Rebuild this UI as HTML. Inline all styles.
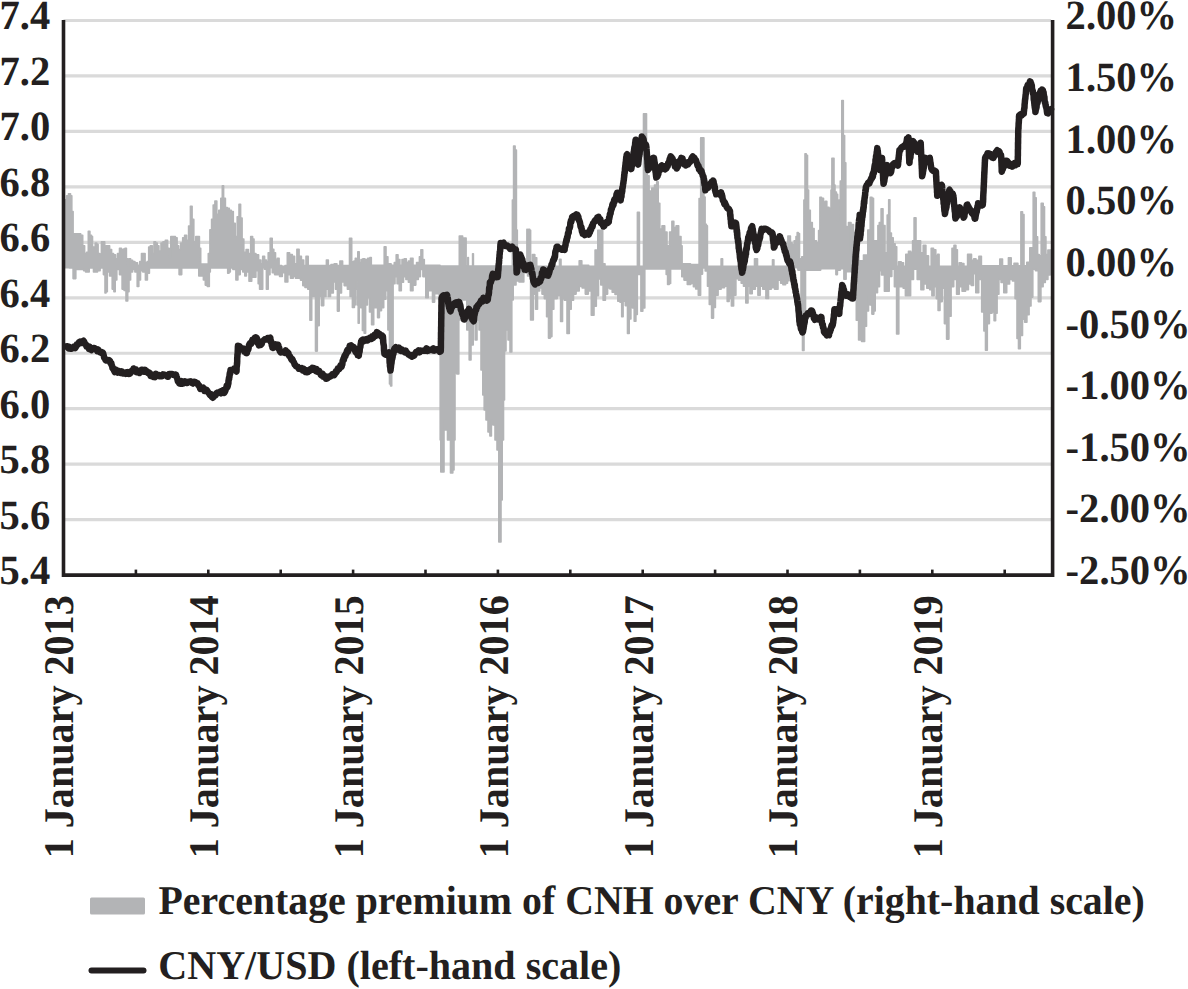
<!DOCTYPE html>
<html><head><meta charset="utf-8"><style>
html,body{margin:0;padding:0;background:#fff;overflow:hidden;}
svg{display:block;}
text{text-rendering:geometricPrecision;font-family:"Liberation Serif",serif;font-weight:bold;fill:#231f20;}
.ax{font-size:41.6px;}
.xl{font-size:42.2px;}
.lg{font-size:40.9px;}
</style></head><body>
<svg width="1188" height="989" viewBox="0 0 1188 989">
<line x1="63.5" y1="20.50" x2="1051.1" y2="20.50" stroke="#dadada" stroke-width="3.2"/>
<line x1="63.5" y1="75.96" x2="1051.1" y2="75.96" stroke="#dadada" stroke-width="3.2"/>
<line x1="63.5" y1="131.42" x2="1051.1" y2="131.42" stroke="#dadada" stroke-width="3.2"/>
<line x1="63.5" y1="186.88" x2="1051.1" y2="186.88" stroke="#dadada" stroke-width="3.2"/>
<line x1="63.5" y1="242.34" x2="1051.1" y2="242.34" stroke="#dadada" stroke-width="3.2"/>
<line x1="63.5" y1="297.80" x2="1051.1" y2="297.80" stroke="#dadada" stroke-width="3.2"/>
<line x1="63.5" y1="353.26" x2="1051.1" y2="353.26" stroke="#dadada" stroke-width="3.2"/>
<line x1="63.5" y1="408.72" x2="1051.1" y2="408.72" stroke="#dadada" stroke-width="3.2"/>
<line x1="63.5" y1="464.18" x2="1051.1" y2="464.18" stroke="#dadada" stroke-width="3.2"/>
<line x1="63.5" y1="519.64" x2="1051.1" y2="519.64" stroke="#dadada" stroke-width="3.2"/>
<path d="M65.0 199.7 L65.5 199.7 L65.5 199.7 L66.6 199.7 L66.6 195.8 L68.5 195.8 L68.5 193.8 L70.5 193.8 L70.5 195.8 L71.8 195.8 L71.8 211.5 L73.1 211.5 L73.1 233.9 L74.8 233.9 L74.8 233.9 L77.7 233.9 L77.7 233.9 L80.7 233.9 L80.7 235.2 L82.7 235.2 L82.7 245.7 L84.6 245.7 L84.6 253.6 L86.6 253.6 L86.6 252.3 L88.3 252.3 L88.3 231.2 L89.9 231.2 L89.9 235.2 L91.5 235.2 L91.5 236.5 L92.5 236.5 L92.5 248.3 L93.5 248.3 L93.5 247.0 L95.2 247.0 L95.2 243.1 L96.8 243.1 L96.8 244.4 L98.1 244.4 L98.1 253.6 L99.8 253.6 L99.8 254.9 L101.4 254.9 L101.4 241.8 L103.0 241.8 L103.0 241.8 L104.7 241.8 L104.7 249.6 L106.0 249.6 L106.0 245.7 L107.6 245.7 L107.6 245.7 L109.6 245.7 L109.6 249.6 L111.6 249.6 L111.6 253.6 L113.5 253.6 L113.5 254.9 L115.5 254.9 L115.5 258.8 L117.5 258.8 L117.5 253.6 L119.5 253.6 L119.5 248.3 L121.4 248.3 L121.4 249.6 L123.4 249.6 L123.4 249.0 L125.0 249.0 L125.0 248.3 L126.4 248.3 L126.4 258.8 L127.7 258.8 L127.7 265.4 L129.0 265.4 L129.0 258.8 L130.6 258.8 L130.6 260.2 L132.6 260.2 L132.6 261.5 L134.9 261.5 L134.9 262.8 L137.5 262.8 L137.5 265.4 L139.8 265.4 L139.8 261.5 L141.5 261.5 L141.5 253.6 L143.1 253.6 L143.1 253.6 L145.1 253.6 L145.1 262.8 L147.1 262.8 L147.1 261.5 L148.7 261.5 L148.7 247.0 L150.3 247.0 L150.3 245.7 L152.3 245.7 L152.3 253.6 L154.0 253.6 L154.0 241.8 L155.6 241.8 L155.6 243.1 L157.2 243.1 L157.2 245.7 L158.9 245.7 L158.9 251.0 L161.0 251.0 L161.0 243.1 L163.0 243.1 L163.0 241.8 L165.3 241.8 L165.3 240.4 L167.6 240.4 L167.6 248.3 L169.2 248.3 L169.2 257.5 L170.8 257.5 L170.8 236.5 L173.1 236.5 L173.1 236.5 L175.4 236.5 L175.4 237.8 L177.1 237.8 L177.1 245.7 L178.7 245.7 L178.7 249.6 L180.7 249.6 L180.7 243.1 L182.7 243.1 L182.7 237.8 L184.6 237.8 L184.6 235.2 L186.6 235.2 L186.6 240.4 L188.6 240.4 L188.6 226.0 L190.4 226.0 L190.4 206.3 L192.1 206.3 L192.1 219.4 L193.8 219.4 L193.8 241.8 L195.8 241.8 L195.8 236.5 L197.8 236.5 L197.8 236.5 L199.4 236.5 L199.4 248.3 L200.7 248.3 L200.7 264.1 L203.0 264.1 L203.0 264.1 L206.0 264.1 L206.0 264.1 L208.3 264.1 L208.3 253.6 L209.9 253.6 L209.9 229.9 L211.6 229.9 L211.6 219.4 L213.2 219.4 L213.2 205.0 L214.9 205.0 L214.9 201.0 L216.8 201.0 L216.8 214.2 L218.8 214.2 L218.8 210.2 L220.8 210.2 L220.8 198.4 L222.3 198.4 L222.3 185.9 L223.6 185.9 L223.6 198.4 L225.4 198.4 L225.4 207.6 L227.3 207.6 L227.3 208.3 L229.3 208.3 L229.3 210.2 L231.3 210.2 L231.3 211.5 L233.3 211.5 L233.3 223.4 L235.2 223.4 L235.2 236.5 L237.2 236.5 L237.2 216.8 L239.0 216.8 L239.0 204.3 L240.6 204.3 L240.6 218.1 L242.1 218.1 L242.1 239.1 L243.8 239.1 L243.8 252.3 L246.1 252.3 L246.1 249.6 L248.4 249.6 L248.4 253.6 L250.7 253.6 L250.7 236.5 L252.6 236.5 L252.6 239.1 L254.0 239.1 L254.0 253.6 L255.9 253.6 L255.9 254.9 L258.6 254.9 L258.6 260.1 L260.9 260.1 L260.9 263.7 L262.7 263.7 L262.7 256.4 L264.6 256.4 L264.6 260.1 L266.4 260.1 L266.4 261.9 L268.2 261.9 L268.2 252.8 L270.2 252.8 L270.2 238.2 L272.2 238.2 L272.2 249.2 L273.8 249.2 L273.8 252.8 L275.5 252.8 L275.5 260.1 L277.3 260.1 L277.3 258.3 L279.1 258.3 L279.1 265.5 L281.8 265.5 L281.8 266.2 L285.0 266.2 L285.0 265.5 L287.3 265.5 L287.3 252.8 L289.6 252.8 L289.6 254.6 L292.3 254.6 L292.3 256.4 L294.6 256.4 L294.6 263.7 L296.9 263.7 L296.9 249.2 L299.1 249.2 L299.1 256.4 L301.4 256.4 L301.4 260.1 L303.7 260.1 L303.7 265.5 L306.0 265.5 L306.0 256.4 L308.2 256.4 L308.2 265.5 L317.3 265.5 L317.3 265.5 L326.4 265.5 L326.4 260.1 L328.3 260.1 L328.3 265.5 L331.0 265.5 L331.0 264.6 L334.2 264.6 L334.2 263.7 L336.9 263.7 L336.9 265.5 L339.9 265.5 L339.9 261.0 L342.6 261.0 L342.6 265.5 L346.0 265.5 L346.0 265.5 L349.5 265.5 L349.5 238.2 L351.7 238.2 L351.7 261.9 L353.9 261.9 L353.9 261.0 L355.3 261.0 L355.3 258.3 L356.3 258.3 L356.3 259.6 L357.8 259.6 L357.8 251.8 L359.2 251.8 L359.2 262.5 L361.0 262.5 L361.0 259.6 L362.8 259.6 L362.8 258.9 L364.9 258.9 L364.9 259.6 L367.7 259.6 L367.7 258.2 L369.9 258.2 L369.9 257.5 L371.3 257.5 L371.3 265.3 L377.6 265.3 L377.6 265.3 L384.2 265.3 L384.2 246.9 L386.0 246.9 L386.0 256.8 L387.9 256.8 L387.9 263.9 L391.1 263.9 L391.1 265.3 L394.3 265.3 L394.3 262.5 L396.2 262.5 L396.2 254.7 L398.0 254.7 L398.0 259.6 L399.9 259.6 L399.9 265.3 L402.0 265.3 L402.0 259.6 L404.2 259.6 L404.2 258.9 L406.3 258.9 L406.3 262.5 L408.4 262.5 L408.4 261.0 L410.5 261.0 L410.5 258.2 L413.0 258.2 L413.0 265.3 L416.6 265.3 L416.6 262.5 L419.4 262.5 L419.4 256.8 L420.9 256.8 L420.9 249.7 L422.7 249.7 L422.7 259.6 L424.3 259.6 L424.3 265.3 L432.5 265.3 L432.5 265.3 L440.0 265.3 L440.0 266.0 L449.5 266.0 L449.5 266.0 L459.3 266.0 L459.3 236.0 L462.6 236.0 L462.6 238.0 L466.1 238.0 L466.1 266.0 L467.0 266.0 L467.0 266.0 L467.8 266.0 L467.8 257.5 L468.4 257.5 L468.4 266.0 L470.6 266.0 L470.6 266.0 L472.6 266.0 L472.6 253.7 L473.4 253.7 L473.4 266.0 L492.9 266.0 L492.9 266.0 L512.4 266.0 L512.4 200.0 L513.6 200.0 L513.6 146.0 L515.1 146.0 L515.1 150.0 L516.4 150.0 L516.4 230.0 L517.3 230.0 L517.3 266.0 L519.6 266.0 L519.6 266.2 L524.0 266.2 L524.0 266.0 L526.9 266.0 L526.9 229.4 L527.4 229.4 L527.4 229.6 L528.5 229.6 L528.5 229.4 L529.7 229.4 L529.7 230.3 L530.6 230.3 L530.6 266.2 L532.5 266.2 L532.5 254.6 L534.8 254.6 L534.8 257.7 L536.7 257.7 L536.7 266.2 L548.1 266.2 L548.1 266.2 L559.5 266.2 L559.5 259.2 L561.0 259.2 L561.0 266.2 L569.7 266.2 L569.7 266.2 L579.2 266.2 L579.2 260.7 L581.8 260.7 L581.8 265.3 L588.7 265.3 L588.7 266.2 L595.1 266.2 L595.1 250.1 L597.8 250.1 L597.8 230.3 L600.8 230.3 L600.8 230.3 L602.7 230.3 L602.7 263.7 L605.0 263.7 L605.0 266.2 L611.8 266.2 L611.8 266.2 L627.1 266.2 L627.1 266.2 L637.4 266.2 L637.4 212.3 L638.4 212.3 L638.4 212.3 L639.4 212.3 L639.4 266.2 L641.4 266.2 L641.4 266.2 L643.5 266.2 L643.5 113.7 L645.0 113.7 L645.0 113.7 L646.5 113.7 L646.5 169.8 L647.2 169.8 L647.2 175.9 L649.1 175.9 L649.1 191.0 L651.8 191.0 L651.8 188.0 L654.5 188.0 L654.5 185.0 L656.7 185.0 L656.7 181.9 L658.2 181.9 L658.2 203.2 L659.8 203.2 L659.8 229.0 L662.0 229.0 L662.0 225.9 L664.7 225.9 L664.7 232.0 L667.0 232.0 L667.0 245.7 L669.6 245.7 L669.6 232.0 L671.9 232.0 L671.9 221.4 L673.8 221.4 L673.8 227.5 L676.1 227.5 L676.1 225.9 L678.7 225.9 L678.7 236.6 L681.0 236.6 L681.0 245.7 L682.1 245.7 L682.1 263.9 L690.5 263.9 L690.5 264.6 L699.1 264.6 L699.1 198.6 L700.7 198.6 L700.7 137.9 L702.6 137.9 L702.6 137.9 L703.9 137.9 L703.9 197.1 L705.1 197.1 L705.1 224.4 L706.4 224.4 L706.4 225.9 L707.4 225.9 L707.4 266.2 L708.8 266.2 L708.8 266.2 L715.0 266.2 L715.0 266.2 L721.1 266.2 L721.1 258.9 L722.6 258.9 L722.6 266.2 L738.6 266.2 L738.6 266.2 L754.5 266.2 L754.5 258.9 L756.0 258.9 L756.0 258.9 L757.5 258.9 L757.5 266.2 L765.1 266.2 L765.1 266.2 L772.5 266.2 L772.5 259.7 L773.9 259.7 L773.9 266.2 L780.9 266.2 L780.9 266.2 L787.9 266.2 L787.9 236.1 L789.1 236.1 L789.1 236.1 L790.4 236.1 L790.4 242.7 L792.1 242.7 L792.1 244.7 L794.2 244.7 L794.2 240.7 L796.0 240.7 L796.0 236.6 L797.2 236.6 L797.2 232.6 L798.2 232.6 L798.2 233.6 L799.5 233.6 L799.5 258.9 L801.8 258.9 L801.8 256.8 L803.9 256.8 L803.9 200.0 L805.0 200.0 L805.0 153.7 L806.2 153.7 L806.2 155.3 L807.5 155.3 L807.5 190.0 L808.6 190.0 L808.6 210.3 L810.3 210.3 L810.3 222.5 L812.3 222.5 L812.3 228.5 L814.1 228.5 L814.1 240.7 L816.4 240.7 L816.4 242.7 L818.6 242.7 L818.6 230.6 L819.9 230.6 L819.9 197.2 L821.5 197.2 L821.5 198.2 L823.5 198.2 L823.5 202.2 L825.2 202.2 L825.2 201.2 L826.8 201.2 L826.8 207.3 L829.0 207.3 L829.0 208.3 L831.0 208.3 L831.0 190.0 L831.9 190.0 L831.9 158.3 L832.9 158.3 L832.9 158.3 L834.0 158.3 L834.0 185.0 L835.0 185.0 L835.0 192.1 L836.4 192.1 L836.4 194.2 L837.6 194.2 L837.6 220.4 L838.8 220.4 L838.8 200.0 L840.3 200.0 L840.3 181.0 L841.8 181.0 L841.8 100.6 L843.3 100.6 L843.3 135.5 L844.6 135.5 L844.6 162.8 L845.8 162.8 L845.8 226.6 L847.1 226.6 L847.1 252.8 L848.5 252.8 L848.5 222.5 L851.0 222.5 L851.0 224.5 L853.5 224.5 L853.5 232.6 L855.5 232.6 L855.5 240.7 L858.8 240.7 L858.8 260.9 L863.5 260.9 L863.5 255.0 L867.8 255.0 L867.8 230.0 L870.2 230.0 L870.2 197.2 L872.0 197.2 L872.0 198.2 L873.5 198.2 L873.5 240.7 L875.5 240.7 L875.5 240.7 L877.9 240.7 L877.9 225.5 L879.3 225.5 L879.3 222.5 L881.1 222.5 L881.1 208.8 L883.0 208.8 L883.0 225.5 L885.0 225.5 L885.0 252.8 L887.2 252.8 L887.2 215.0 L888.7 215.0 L888.7 199.7 L889.9 199.7 L889.9 233.1 L891.4 233.1 L891.4 237.7 L893.2 237.7 L893.2 243.7 L895.1 243.7 L895.1 246.8 L896.7 246.8 L896.7 266.2 L898.6 266.2 L898.6 261.9 L901.2 261.9 L901.2 262.7 L903.5 262.7 L903.5 266.2 L905.8 266.2 L905.8 254.4 L908.5 254.4 L908.5 251.3 L910.8 251.3 L910.8 252.8 L912.6 252.8 L912.6 240.7 L914.1 240.7 L914.1 217.9 L916.0 217.9 L916.0 240.7 L918.4 240.7 L918.4 240.7 L920.6 240.7 L920.6 252.8 L923.2 252.8 L923.2 245.3 L925.9 245.3 L925.9 255.9 L928.5 255.9 L928.5 266.2 L931.2 266.2 L931.2 248.3 L933.5 248.3 L933.5 249.8 L935.8 249.8 L935.8 255.9 L937.6 255.9 L937.6 254.4 L939.1 254.4 L939.1 266.2 L945.6 266.2 L945.6 266.2 L952.0 266.2 L952.0 248.3 L954.0 248.3 L954.0 245.3 L955.9 245.3 L955.9 249.8 L957.4 249.8 L957.4 266.2 L959.2 266.2 L959.2 262.7 L961.5 262.7 L961.5 263.5 L963.9 263.5 L963.9 266.2 L967.6 266.2 L967.6 254.4 L971.5 254.4 L971.5 260.4 L973.7 260.4 L973.7 258.9 L976.0 258.9 L976.0 260.4 L978.9 260.4 L978.9 256.2 L981.4 256.2 L981.4 265.7 L990.0 265.7 L990.0 265.7 L999.8 265.7 L999.8 259.0 L1002.5 259.0 L1002.5 265.7 L1005.0 265.7 L1005.0 265.7 L1008.4 265.7 L1008.4 257.9 L1011.2 257.9 L1011.2 265.7 L1014.0 265.7 L1014.0 263.4 L1017.9 263.4 L1017.9 265.7 L1020.9 265.7 L1020.9 211.7 L1022.5 211.7 L1022.5 214.5 L1024.0 214.5 L1024.0 265.7 L1026.8 265.7 L1026.8 262.3 L1029.8 262.3 L1029.8 247.9 L1031.4 247.9 L1031.4 247.9 L1033.2 247.9 L1033.2 192.2 L1034.8 192.2 L1034.8 197.8 L1036.2 197.8 L1036.2 236.7 L1037.6 236.7 L1037.6 254.5 L1039.2 254.5 L1039.2 255.7 L1041.2 255.7 L1041.2 203.4 L1043.2 203.4 L1043.2 206.7 L1044.5 206.7 L1044.5 236.7 L1045.9 236.7 L1045.9 254.5 L1047.9 254.5 L1047.9 250.1 L1049.7 250.1 L1049.7 250.1 L1050.5 250.1 L1050.5 250.1 L1050.8 250.1 L1050.8 270.6 L1050.8 270.6 L1050.8 270.6 L1050.2 270.6 L1050.2 275.0 L1047.9 275.0 L1047.9 279.5 L1045.3 279.5 L1045.3 282.4 L1043.1 282.4 L1043.1 286.8 L1040.9 286.8 L1040.9 301.6 L1038.3 301.6 L1038.3 270.6 L1035.4 270.6 L1035.4 269.1 L1032.8 269.1 L1032.8 297.1 L1031.0 297.1 L1031.0 306.0 L1029.1 306.0 L1029.1 314.8 L1026.9 314.8 L1026.9 322.2 L1024.7 322.2 L1024.7 319.2 L1022.5 319.2 L1022.5 335.4 L1020.3 335.4 L1020.3 348.7 L1018.5 348.7 L1018.5 338.4 L1017.0 338.4 L1017.0 298.6 L1015.1 298.6 L1015.1 280.9 L1012.5 280.9 L1012.5 279.5 L1009.6 279.5 L1009.6 283.9 L1006.7 283.9 L1006.7 292.7 L1003.8 292.7 L1003.8 282.4 L1001.1 282.4 L1001.1 279.5 L998.9 279.5 L998.9 294.2 L997.1 294.2 L997.1 313.3 L995.6 313.3 L995.6 320.7 L994.1 320.7 L994.1 311.9 L992.0 311.9 L992.0 313.3 L989.4 313.3 L989.4 323.6 L987.3 323.6 L987.3 350.2 L985.5 350.2 L985.5 331.0 L983.9 331.0 L983.9 311.9 L981.7 311.9 L981.7 279.5 L978.7 279.5 L978.7 292.7 L975.8 292.7 L975.8 273.6 L973.5 273.6 L973.5 285.4 L971.3 285.4 L971.3 283.9 L968.4 283.9 L968.4 289.8 L965.5 289.8 L965.5 291.2 L962.1 291.2 L962.1 286.8 L959.2 286.8 L959.2 294.2 L956.6 294.2 L956.6 279.5 L953.7 279.5 L953.7 286.8 L951.1 286.8 L951.1 316.3 L948.9 316.3 L948.9 339.1 L946.6 339.1 L946.6 323.6 L944.4 323.6 L944.4 288.3 L942.2 288.3 L942.2 301.6 L940.0 301.6 L940.0 310.4 L938.1 310.4 L938.1 298.6 L936.3 298.6 L936.3 286.8 L934.1 286.8 L934.1 295.7 L931.9 295.7 L931.9 289.8 L929.7 289.8 L929.7 288.3 L926.8 288.3 L926.8 283.9 L923.8 283.9 L923.8 289.8 L920.9 289.8 L920.9 279.5 L917.2 279.5 L917.2 269.1 L913.5 269.1 L913.5 279.5 L910.6 279.5 L910.6 295.7 L908.0 295.7 L908.0 295.7 L905.4 295.7 L905.4 288.3 L903.2 288.3 L903.2 286.8 L901.0 286.8 L901.0 286.8 L898.8 286.8 L898.8 334.0 L896.6 334.0 L896.6 286.8 L894.4 286.8 L894.4 269.1 L891.8 269.1 L891.8 276.5 L889.2 276.5 L889.2 291.2 L887.0 291.2 L887.0 291.2 L884.4 291.2 L884.4 275.0 L881.5 275.0 L881.5 270.6 L879.5 270.6 L879.5 286.8 L877.5 286.8 L877.5 292.8 L875.2 292.8 L875.2 311.0 L873.8 311.0 L873.8 314.1 L871.9 314.1 L871.9 305.0 L870.0 305.0 L870.0 295.9 L868.5 295.9 L868.5 311.0 L866.5 311.0 L866.5 326.2 L864.6 326.2 L864.6 341.4 L861.6 341.4 L861.6 339.9 L858.6 339.9 L858.6 320.2 L856.3 320.2 L856.3 271.6 L851.0 271.6 L851.0 271.6 L846.1 271.6 L846.1 279.2 L843.9 279.2 L843.9 268.6 L840.4 268.6 L840.4 270.1 L837.4 270.1 L837.4 274.6 L835.9 274.6 L835.9 268.6 L820.7 268.6 L820.7 270.1 L805.5 270.1 L805.5 311.0 L804.0 311.0 L804.0 350.5 L802.5 350.5 L802.5 305.0 L801.0 305.0 L801.0 270.1 L797.9 270.1 L797.9 267.8 L794.1 267.8 L794.1 270.1 L791.5 270.1 L791.5 273.1 L789.1 273.1 L789.1 280.7 L787.5 280.7 L787.5 283.2 L785.6 283.2 L785.6 284.7 L782.9 284.7 L782.9 283.2 L780.7 283.2 L780.7 280.2 L778.0 280.2 L778.0 289.3 L774.6 289.3 L774.6 287.7 L771.2 287.7 L771.2 289.3 L768.5 289.3 L768.5 298.4 L765.9 298.4 L765.9 289.3 L762.8 289.3 L762.8 286.2 L760.2 286.2 L760.2 295.3 L757.9 295.3 L757.9 286.2 L755.3 286.2 L755.3 289.3 L752.2 289.3 L752.2 293.8 L749.9 293.8 L749.9 286.2 L748.0 286.2 L748.0 302.9 L745.8 302.9 L745.8 286.2 L743.5 286.2 L743.5 283.2 L741.2 283.2 L741.2 280.2 L738.6 280.2 L738.6 278.6 L735.9 278.6 L735.9 295.3 L733.6 295.3 L733.6 305.9 L731.4 305.9 L731.4 298.4 L729.1 298.4 L729.1 301.4 L727.2 301.4 L727.2 286.2 L724.5 286.2 L724.5 287.7 L721.1 287.7 L721.1 289.3 L718.1 289.3 L718.1 295.3 L715.4 295.3 L715.4 307.5 L713.5 307.5 L713.5 318.1 L711.6 318.1 L711.6 304.4 L709.3 304.4 L709.3 286.2 L707.5 286.2 L707.5 271.0 L705.2 271.0 L705.2 268.0 L702.5 268.0 L702.5 274.1 L700.6 274.1 L700.6 295.3 L698.3 295.3 L698.3 289.0 L695.7 289.0 L695.7 286.7 L693.4 286.7 L693.4 283.4 L690.7 283.4 L690.7 284.5 L687.3 284.5 L687.3 280.1 L684.0 280.1 L684.0 276.7 L681.8 276.7 L681.8 268.9 L676.2 268.9 L676.2 268.9 L670.6 268.9 L670.6 283.4 L669.2 283.4 L669.2 284.5 L667.6 284.5 L667.6 274.5 L666.2 274.5 L666.2 268.9 L655.6 268.9 L655.6 268.9 L644.8 268.9 L644.8 307.9 L642.8 307.9 L642.8 311.2 L640.9 311.2 L640.9 274.5 L638.9 274.5 L638.9 274.5 L637.3 274.5 L637.3 314.5 L635.9 314.5 L635.9 321.2 L634.2 321.2 L634.2 307.9 L632.5 307.9 L632.5 303.4 L630.9 303.4 L630.9 319.0 L629.2 319.0 L629.2 333.4 L627.5 333.4 L627.5 305.6 L625.3 305.6 L625.3 301.2 L623.1 301.2 L623.1 316.8 L621.7 316.8 L621.7 302.3 L620.0 302.3 L620.0 301.2 L617.8 301.2 L617.8 294.5 L615.0 294.5 L615.0 292.3 L612.2 292.3 L612.2 289.0 L609.9 289.0 L609.9 288.0 L607.6 288.0 L607.6 294.1 L605.4 294.1 L605.4 300.2 L603.1 300.2 L603.1 285.0 L600.8 285.0 L600.8 278.9 L598.5 278.9 L598.5 295.6 L596.3 295.6 L596.3 306.2 L594.0 306.2 L594.0 315.3 L591.3 315.3 L591.3 291.0 L588.3 291.0 L588.3 294.1 L585.3 294.1 L585.3 288.0 L582.2 288.0 L582.2 286.5 L579.2 286.5 L579.2 291.0 L576.1 291.0 L576.1 294.1 L573.5 294.1 L573.5 300.2 L571.2 300.2 L571.2 309.3 L569.3 309.3 L569.3 333.5 L567.0 333.5 L567.0 300.2 L564.4 300.2 L564.4 298.6 L562.5 298.6 L562.5 321.4 L560.6 321.4 L560.6 295.6 L557.2 295.6 L557.2 298.6 L553.8 298.6 L553.8 309.3 L551.9 309.3 L551.9 336.6 L550.3 336.6 L550.3 338.1 L548.5 338.1 L548.5 316.8 L546.6 316.8 L546.6 298.6 L544.3 298.6 L544.3 294.1 L542.0 294.1 L542.0 288.0 L539.7 288.0 L539.7 291.0 L537.5 291.0 L537.5 309.3 L535.6 309.3 L535.6 294.1 L533.3 294.1 L533.3 319.9 L530.6 319.9 L530.6 275.9 L527.6 275.9 L527.6 272.8 L523.8 272.8 L523.8 281.9 L520.8 281.9 L520.8 282.0 L519.0 282.0 L519.0 281.0 L516.0 281.0 L516.0 285.0 L513.2 285.0 L513.2 300.0 L511.8 300.0 L511.8 352.0 L510.0 352.0 L510.0 340.0 L508.0 340.0 L508.0 330.0 L506.0 330.0 L506.0 351.0 L504.5 351.0 L504.5 400.0 L503.5 400.0 L503.5 440.0 L502.2 440.0 L502.2 500.0 L501.0 500.0 L501.0 542.0 L500.0 542.0 L500.0 542.0 L498.8 542.0 L498.8 450.0 L497.0 450.0 L497.0 440.0 L495.0 440.0 L495.0 425.0 L493.0 425.0 L493.0 420.0 L491.4 420.0 L491.4 436.0 L489.9 436.0 L489.9 432.0 L488.0 432.0 L488.0 420.0 L486.0 420.0 L486.0 410.0 L484.2 410.0 L484.2 395.0 L482.8 395.0 L482.8 370.0 L481.0 370.0 L481.0 330.0 L479.0 330.0 L479.0 320.0 L477.0 320.0 L477.0 340.0 L475.2 340.0 L475.2 320.0 L473.2 320.0 L473.2 345.0 L471.0 345.0 L471.0 360.0 L469.2 360.0 L469.2 330.0 L466.8 330.0 L466.8 300.0 L463.5 300.0 L463.5 300.0 L460.8 300.0 L460.8 320.0 L458.8 320.0 L458.8 374.0 L456.8 374.0 L456.8 373.0 L455.0 373.0 L455.0 440.0 L454.0 440.0 L454.0 470.0 L452.8 470.0 L452.8 473.0 L450.5 473.0 L450.5 440.0 L447.5 440.0 L447.5 430.0 L445.2 430.0 L445.2 420.0 L444.0 420.0 L444.0 472.0 L442.2 472.0 L442.2 472.0 L440.8 472.0 L440.8 440.0 L440.2 440.0 L440.2 300.0 L440.0 300.0 L440.0 299.2 L439.2 299.2 L439.2 293.6 L437.1 293.6 L437.1 293.6 L434.6 293.6 L434.6 302.1 L432.5 302.1 L432.5 290.8 L430.4 290.8 L430.4 290.8 L428.2 290.8 L428.2 297.8 L425.8 297.8 L425.8 276.6 L422.9 276.6 L422.9 269.5 L420.4 269.5 L420.4 276.6 L418.3 276.6 L418.3 279.4 L415.8 279.4 L415.8 285.1 L413.0 285.1 L413.0 290.8 L410.5 290.8 L410.5 282.3 L408.4 282.3 L408.4 279.4 L405.9 279.4 L405.9 276.6 L403.5 276.6 L403.5 282.3 L401.3 282.3 L401.3 290.8 L399.2 290.8 L399.2 283.7 L397.1 283.7 L397.1 276.6 L395.0 276.6 L395.0 283.7 L393.1 283.7 L393.1 345.0 L391.7 345.0 L391.7 386.0 L390.6 386.0 L390.6 384.0 L389.5 384.0 L389.5 330.0 L387.9 330.0 L387.9 290.8 L385.8 290.8 L385.8 299.2 L383.7 299.2 L383.7 307.7 L381.5 307.7 L381.5 310.6 L379.4 310.6 L379.4 317.6 L377.6 317.6 L377.6 307.7 L375.9 307.7 L375.9 307.7 L373.7 307.7 L373.7 324.7 L371.6 324.7 L371.6 312.0 L369.5 312.0 L369.5 297.8 L367.4 297.8 L367.4 304.9 L365.6 304.9 L365.6 333.2 L364.2 333.2 L364.2 330.4 L362.4 330.4 L362.4 307.7 L360.7 307.7 L360.7 304.9 L359.2 304.9 L359.2 323.3 L358.2 323.3 L358.2 304.9 L357.1 304.9 L357.1 280.8 L356.0 280.8 L356.0 289.2 L355.3 289.2 L355.3 304.9 L354.4 304.9 L354.4 307.4 L352.4 307.4 L352.4 296.5 L350.1 296.5 L350.1 289.2 L347.4 289.2 L347.4 285.6 L344.2 285.6 L344.2 281.9 L341.5 281.9 L341.5 292.9 L339.2 292.9 L339.2 311.1 L337.4 311.1 L337.4 289.2 L335.5 289.2 L335.5 281.9 L333.3 281.9 L333.3 292.9 L330.5 292.9 L330.5 296.5 L328.3 296.5 L328.3 289.2 L326.0 289.2 L326.0 296.5 L323.7 296.5 L323.7 305.6 L321.4 305.6 L321.4 296.5 L319.2 296.5 L319.2 325.6 L317.3 325.6 L317.3 351.1 L315.5 351.1 L315.5 296.5 L313.7 296.5 L313.7 296.5 L311.7 296.5 L311.7 320.2 L309.9 320.2 L309.9 289.2 L307.8 289.2 L307.8 287.4 L305.0 287.4 L305.0 285.6 L302.8 285.6 L302.8 280.1 L300.5 280.1 L300.5 278.3 L297.8 278.3 L297.8 278.3 L295.5 278.3 L295.5 276.5 L293.2 276.5 L293.2 278.3 L290.5 278.3 L290.5 274.6 L287.8 274.6 L287.8 281.9 L285.0 281.9 L285.0 272.8 L282.3 272.8 L282.3 276.5 L279.6 276.5 L279.6 274.6 L276.8 274.6 L276.8 274.6 L274.6 274.6 L274.6 272.8 L272.3 272.8 L272.3 267.8 L270.0 267.8 L270.0 274.6 L268.2 274.6 L268.2 289.2 L266.4 289.2 L266.4 269.2 L264.6 269.2 L264.6 267.8 L262.7 267.8 L262.7 289.2 L260.9 289.2 L260.9 289.2 L259.6 289.2 L259.6 283.8 L258.2 283.8 L258.2 270.7 L255.9 270.7 L255.9 277.2 L253.6 277.2 L253.6 277.2 L251.7 277.2 L251.7 281.2 L249.0 281.2 L249.0 272.0 L246.4 272.0 L246.4 275.9 L244.8 275.9 L244.8 272.0 L242.8 272.0 L242.8 269.4 L240.2 269.4 L240.2 274.6 L237.9 274.6 L237.9 279.9 L235.9 279.9 L235.9 269.4 L232.9 269.4 L232.9 268.0 L230.3 268.0 L230.3 272.0 L229.0 272.0 L229.0 273.3 L227.7 273.3 L227.7 268.0 L218.8 268.0 L218.8 268.0 L210.3 268.0 L210.3 272.0 L209.3 272.0 L209.3 286.4 L207.3 286.4 L207.3 285.1 L205.3 285.1 L205.3 279.9 L203.4 279.9 L203.4 275.9 L200.7 275.9 L200.7 275.9 L198.8 275.9 L198.8 268.0 L190.2 268.0 L190.2 268.0 L181.7 268.0 L181.7 274.6 L180.4 274.6 L180.4 274.6 L179.1 274.6 L179.1 268.0 L169.2 268.0 L169.2 268.0 L159.3 268.0 L159.3 268.0 L154.6 268.0 L154.6 268.0 L149.4 268.0 L149.4 273.3 L147.4 273.3 L147.4 279.9 L145.4 279.9 L145.4 272.0 L142.8 272.0 L142.8 270.7 L140.5 270.7 L140.5 279.9 L138.8 279.9 L138.8 286.4 L137.2 286.4 L137.2 272.0 L134.9 272.0 L134.9 269.4 L132.6 269.4 L132.6 272.0 L130.6 272.0 L130.6 279.9 L129.0 279.9 L129.0 291.7 L127.7 291.7 L127.7 300.9 L126.0 300.9 L126.0 290.4 L124.1 290.4 L124.1 289.1 L122.1 289.1 L122.1 274.6 L119.5 274.6 L119.5 269.4 L116.8 269.4 L116.8 279.9 L115.2 279.9 L115.2 291.7 L113.9 291.7 L113.9 289.1 L112.2 289.1 L112.2 275.9 L109.6 275.9 L109.6 272.0 L107.3 272.0 L107.3 291.7 L106.0 291.7 L106.0 293.0 L105.0 293.0 L105.0 274.6 L103.4 274.6 L103.4 268.0 L100.1 268.0 L100.1 270.7 L97.5 270.7 L97.5 272.0 L93.5 272.0 L93.5 268.0 L89.2 268.0 L89.2 272.0 L87.6 272.0 L87.6 272.0 L85.6 272.0 L85.6 270.7 L83.7 270.7 L83.7 269.4 L79.7 269.4 L79.7 269.4 L75.8 269.4 L75.8 278.6 L74.5 278.6 L74.5 278.6 L73.1 278.6 L73.1 268.0 L69.2 268.0 L69.2 267.8 L65.5 267.8 L65.5 267.8 L65.0 267.8Z" fill="#b3b4b6" stroke="#b3b4b6" stroke-width="1.6" stroke-linejoin="round"/>
<path d="M65.3 346.5 L66.4 346.4 L67.4 346.2 L68.5 348.4 L69.5 346.9 L70.6 348.8 L71.7 348.7 L72.9 348.0 L74.0 346.7 L75.2 348.0 L75.9 347.1 L76.7 344.6 L77.4 345.0 L78.2 344.2 L79.1 342.2 L80.0 341.6 L80.9 342.2 L81.8 342.9 L82.7 341.2 L83.5 340.7 L84.2 341.8 L85.0 343.9 L85.8 344.2 L86.5 346.5 L87.3 346.0 L88.0 346.2 L88.8 348.9 L89.5 346.5 L90.3 348.8 L91.3 350.1 L92.3 348.3 L93.3 348.0 L94.3 348.0 L95.4 348.8 L96.4 349.5 L97.2 351.2 L98.1 349.5 L99.0 351.4 L99.8 352.2 L100.7 351.8 L101.6 353.0 L102.4 353.3 L102.9 352.8 L103.3 353.8 L103.7 355.3 L104.2 357.8 L104.6 358.0 L105.0 358.5 L105.5 360.2 L106.6 360.6 L107.7 360.4 L108.9 360.0 L110.0 360.9 L110.4 362.9 L110.8 363.6 L111.3 363.1 L111.7 365.2 L112.1 366.0 L112.5 368.2 L112.9 368.8 L113.4 368.3 L113.8 370.0 L114.8 372.1 L115.7 369.6 L116.7 371.0 L117.7 372.6 L118.7 371.0 L119.6 372.6 L120.6 373.0 L121.6 371.3 L122.6 373.3 L123.6 373.6 L124.6 372.8 L125.7 373.7 L126.7 372.3 L127.7 372.1 L128.7 373.9 L129.7 373.8 L130.3 373.2 L131.0 372.3 L131.6 371.0 L132.2 371.4 L132.9 370.9 L133.5 368.5 L134.2 369.2 L135.0 370.6 L135.8 369.3 L136.5 372.2 L137.3 372.3 L138.3 372.3 L139.4 373.0 L140.5 372.0 L141.5 369.7 L142.6 370.0 L143.5 370.1 L144.3 371.6 L145.2 369.9 L146.1 371.9 L147.0 371.4 L147.9 373.0 L148.8 372.4 L149.6 372.8 L150.5 375.8 L151.4 374.3 L152.3 375.3 L153.2 376.8 L154.1 376.0 L155.1 377.1 L156.0 373.9 L157.0 374.8 L158.0 374.7 L159.0 375.1 L160.0 376.3 L161.0 376.1 L162.0 376.3 L163.0 374.4 L164.0 374.9 L165.1 374.8 L166.1 375.3 L167.1 376.5 L168.1 376.7 L169.1 373.9 L170.1 373.9 L171.1 374.0 L172.1 373.9 L173.1 374.7 L174.1 374.9 L175.2 374.5 L175.6 374.6 L176.1 374.7 L176.5 377.0 L177.0 377.7 L177.4 379.3 L177.9 381.5 L178.3 381.6 L178.8 381.9 L179.2 383.1 L179.7 383.6 L180.8 383.8 L181.8 381.2 L182.9 383.6 L183.9 382.8 L185.0 381.4 L186.1 382.9 L187.3 382.9 L188.4 381.8 L189.5 382.0 L190.7 381.3 L191.8 382.9 L192.9 383.5 L193.9 381.7 L195.0 381.9 L196.1 382.5 L197.1 383.6 L197.6 383.4 L198.1 384.9 L198.6 384.8 L199.1 385.5 L199.6 386.9 L200.2 388.9 L201.2 387.7 L202.3 388.8 L203.3 387.8 L204.4 390.8 L205.5 389.7 L206.2 391.0 L207.0 390.3 L207.7 391.5 L208.5 392.7 L209.2 393.7 L210.0 395.0 L210.9 394.1 L211.9 396.9 L212.8 397.8 L213.8 396.5 L214.7 395.8 L215.6 395.2 L216.4 393.2 L217.3 392.6 L218.2 392.8 L219.1 392.7 L220.1 391.7 L221.1 393.3 L222.1 390.8 L223.1 390.1 L224.1 393.0 L225.2 391.2 L225.5 390.4 L225.9 388.1 L226.3 388.5 L226.7 385.8 L227.0 386.6 L227.4 387.2 L227.8 385.8 L228.2 383.6 L228.4 383.3 L228.5 380.7 L228.7 380.0 L228.9 378.3 L229.1 379.3 L229.2 377.5 L229.4 377.2 L229.6 374.7 L229.8 373.3 L229.9 374.2 L230.1 373.7 L230.3 372.2 L230.5 370.0 L231.4 370.7 L232.3 370.3 L233.3 369.7 L234.2 368.5 L235.0 368.6 L235.8 370.6 L236.5 371.5 L236.6 370.0 L236.6 367.9 L236.7 366.8 L236.8 366.6 L236.8 365.5 L236.9 366.0 L236.9 365.9 L237.0 363.1 L237.1 363.7 L237.1 362.9 L237.2 361.7 L237.2 358.7 L237.3 357.2 L237.4 356.2 L237.4 355.0 L237.5 354.0 L237.5 354.4 L237.6 354.3 L237.7 353.1 L237.7 350.8 L237.8 350.4 L237.8 349.9 L237.9 346.4 L238.0 347.3 L238.0 345.8 L239.7 346.4 L240.5 348.4 L241.2 348.7 L242.0 349.2 L242.7 349.0 L243.5 348.6 L244.2 351.4 L245.0 350.5 L245.8 352.8 L246.5 352.4 L246.9 353.0 L247.4 350.0 L247.8 349.1 L248.2 349.9 L248.6 348.1 L249.0 345.2 L249.5 344.1 L249.9 343.2 L250.3 343.3 L251.0 344.0 L251.6 342.9 L252.3 339.9 L253.0 341.4 L253.6 341.2 L254.3 339.3 L254.9 337.5 L255.6 337.3 L256.1 338.4 L256.6 337.9 L257.0 338.5 L257.5 342.7 L258.0 342.5 L258.4 343.0 L258.9 345.4 L259.4 344.8 L260.2 344.0 L260.9 344.8 L261.7 344.0 L262.4 341.2 L263.2 340.7 L263.9 340.2 L264.7 339.3 L265.5 339.5 L266.6 339.5 L267.7 338.0 L268.9 338.1 L270.0 338.0 L270.3 337.8 L270.6 341.4 L270.9 340.5 L271.2 341.8 L271.5 343.2 L271.8 345.3 L272.1 344.7 L272.4 347.3 L272.7 346.9 L273.0 347.9 L273.9 347.4 L274.8 346.7 L275.8 344.4 L276.7 345.3 L277.6 344.8 L278.0 344.7 L278.3 345.1 L278.7 348.7 L279.1 347.5 L279.5 349.5 L279.8 351.3 L280.2 351.7 L280.6 352.4 L281.6 351.7 L282.6 352.2 L283.6 352.2 L284.6 352.9 L285.7 350.5 L286.7 351.7 L287.3 352.7 L287.9 352.5 L288.5 353.4 L289.1 355.9 L289.7 355.9 L290.3 356.9 L290.9 358.4 L291.5 359.7 L292.1 359.0 L292.7 360.0 L293.2 361.4 L293.7 362.0 L294.2 363.1 L294.7 364.7 L295.3 364.9 L295.8 366.1 L296.8 366.6 L297.8 366.7 L298.8 368.7 L299.8 368.3 L300.8 369.2 L301.8 368.3 L302.7 370.4 L303.5 368.6 L304.4 370.2 L305.3 372.0 L306.1 372.2 L307.0 370.3 L307.9 372.1 L308.7 370.3 L309.6 370.8 L310.5 369.0 L311.3 369.1 L312.2 368.0 L313.1 369.5 L313.9 368.3 L314.8 369.9 L315.7 371.0 L316.5 369.1 L317.4 371.7 L318.3 372.1 L319.1 371.0 L320.0 372.9 L320.8 374.8 L321.7 375.6 L322.5 373.7 L323.4 376.8 L324.2 375.5 L325.1 376.4 L325.9 378.7 L326.7 378.7 L327.6 378.2 L328.5 376.5 L329.5 376.8 L330.4 376.5 L331.4 375.4 L332.3 374.3 L333.3 374.2 L334.2 375.0 L335.2 373.6 L335.8 371.2 L336.5 372.1 L337.2 370.9 L337.8 368.6 L338.5 368.9 L339.2 369.0 L339.9 367.8 L340.5 365.4 L341.2 366.1 L341.6 366.7 L342.0 365.0 L342.3 364.6 L342.7 360.7 L343.1 360.2 L343.5 358.4 L343.9 359.9 L344.2 357.2 L344.6 355.7 L345.0 355.7 L345.4 356.3 L345.8 353.9 L346.3 354.1 L346.9 351.2 L347.5 349.9 L348.0 351.6 L348.6 349.4 L349.2 348.9 L349.7 345.9 L350.3 346.4 L351.2 345.5 L352.1 348.2 L353.0 347.9 L353.9 347.3 L354.8 349.4 L355.4 351.8 L355.9 351.6 L356.5 353.0 L357.0 351.4 L357.6 354.9 L358.1 353.1 L358.6 355.5 L358.8 355.7 L359.0 353.3 L359.2 351.9 L359.4 351.6 L359.6 351.9 L359.8 348.6 L360.1 347.1 L360.3 347.5 L360.5 345.5 L360.7 344.0 L360.9 343.2 L361.1 341.8 L361.3 341.3 L361.5 340.7 L361.7 340.3 L362.7 339.6 L363.7 341.2 L364.7 339.6 L365.7 340.3 L366.7 339.2 L367.7 340.3 L368.7 339.4 L369.6 337.9 L370.6 338.3 L371.5 338.8 L372.3 336.4 L373.0 338.1 L373.8 336.7 L374.5 334.7 L375.3 334.9 L376.1 335.7 L376.8 332.1 L377.6 332.7 L378.5 334.4 L379.3 333.8 L380.2 334.6 L381.1 336.4 L382.0 335.5 L382.9 336.5 L383.0 337.6 L383.1 339.2 L383.1 341.2 L383.2 340.1 L383.3 342.8 L383.4 343.4 L383.5 344.2 L383.6 344.4 L383.7 345.2 L383.8 345.2 L383.9 346.5 L383.9 347.4 L384.0 350.7 L384.1 350.0 L384.2 350.7 L384.3 351.5 L384.4 353.9 L385.5 354.7 L386.7 354.4 L387.8 353.4 L388.9 352.4 L389.0 352.7 L389.1 353.6 L389.2 354.8 L389.3 356.3 L389.4 356.3 L389.4 358.3 L389.5 358.7 L389.6 362.1 L389.7 363.1 L389.8 362.7 L389.9 362.7 L389.9 366.1 L390.0 364.9 L390.1 366.1 L390.2 365.9 L390.3 368.2 L390.4 369.5 L390.5 370.6 L390.6 369.6 L390.8 367.6 L390.9 367.6 L391.1 364.9 L391.2 364.8 L391.4 363.2 L391.5 363.2 L391.7 361.0 L391.8 359.9 L392.0 359.8 L392.1 358.6 L392.3 358.8 L392.4 357.6 L392.6 357.3 L392.7 355.5 L393.0 355.0 L393.2 354.1 L393.5 353.7 L393.8 351.0 L394.0 349.7 L394.3 351.0 L394.5 348.3 L395.6 347.3 L396.7 349.5 L397.8 349.4 L398.9 347.6 L400.0 350.5 L401.0 350.9 L402.1 349.8 L403.0 350.7 L403.9 351.6 L404.8 352.4 L405.7 350.6 L406.6 352.4 L407.4 352.9 L408.3 354.5 L409.2 354.9 L410.1 355.5 L411.0 355.1 L411.9 356.7 L412.7 355.9 L413.6 355.9 L414.4 355.3 L415.3 353.2 L416.1 351.9 L417.0 351.7 L417.8 351.9 L418.6 350.4 L419.5 352.3 L420.3 350.6 L421.3 350.7 L422.4 350.8 L423.4 350.7 L424.4 350.8 L425.4 350.1 L426.4 348.4 L427.4 351.0 L428.4 350.7 L429.4 349.8 L430.4 349.8 L431.5 349.9 L432.5 350.3 L433.5 348.3 L434.5 350.6 L435.5 349.8 L436.6 349.3 L437.6 349.0 L438.7 349.9 L439.7 351.8 L440.8 351.3 L440.8 349.3 L440.8 350.1 L440.8 349.9 L440.9 347.3 L440.9 345.9 L440.9 345.2 L440.9 344.9 L440.9 344.2 L440.9 342.7 L440.9 341.8 L441.0 338.9 L441.0 338.1 L441.0 337.5 L441.0 338.1 L441.0 335.6 L441.0 335.5 L441.0 332.6 L441.1 331.8 L441.1 331.5 L441.1 331.9 L441.1 330.9 L441.1 329.9 L441.1 327.6 L441.1 327.3 L441.2 326.2 L441.2 325.2 L441.2 323.0 L441.2 324.6 L441.2 321.3 L441.2 322.9 L441.2 321.8 L441.3 317.6 L441.3 318.1 L441.3 318.4 L441.3 317.9 L441.3 315.1 L441.3 313.5 L441.3 312.3 L441.4 313.8 L441.4 310.3 L441.4 310.5 L441.4 308.0 L441.4 308.3 L441.4 308.8 L441.4 305.0 L441.5 306.3 L441.5 304.3 L441.5 304.6 L441.5 302.9 L441.5 300.3 L441.5 301.6 L441.5 299.2 L441.6 298.2 L442.4 296.1 L443.3 295.5 L444.2 296.7 L445.1 296.1 L446.0 295.0 L446.9 295.2 L447.1 295.0 L447.3 296.7 L447.5 297.6 L447.7 300.4 L447.9 298.6 L448.1 302.1 L448.3 303.4 L448.5 302.0 L448.7 305.8 L448.9 306.0 L449.1 307.7 L449.3 306.6 L449.5 307.9 L449.7 309.0 L449.9 310.4 L450.5 311.2 L451.2 308.9 L451.8 307.2 L452.4 306.6 L453.1 305.2 L453.7 305.1 L454.6 303.0 L455.5 302.7 L456.3 304.7 L457.2 302.3 L458.1 304.0 L459.0 302.0 L459.3 302.2 L459.6 303.2 L459.9 305.0 L460.2 304.9 L460.5 306.4 L460.8 309.4 L461.1 310.1 L461.4 310.8 L461.7 311.2 L462.0 313.1 L462.2 314.2 L462.5 313.8 L462.8 315.4 L463.1 314.1 L463.4 317.4 L463.7 317.4 L464.0 319.4 L464.3 319.5 L464.7 319.0 L465.1 316.8 L465.6 315.0 L466.0 317.1 L466.4 313.4 L466.8 313.6 L467.2 312.2 L467.6 311.1 L468.0 311.6 L468.4 311.4 L468.9 308.9 L469.2 309.1 L469.6 311.4 L470.0 311.2 L470.4 313.1 L470.8 313.6 L471.1 313.8 L471.5 314.8 L471.9 316.0 L472.3 319.3 L472.7 319.0 L473.0 319.0 L473.4 321.0 L473.6 321.3 L473.9 320.6 L474.1 317.7 L474.3 315.6 L474.6 314.7 L474.8 313.3 L475.0 313.1 L475.3 311.2 L475.5 310.7 L475.7 309.7 L476.0 309.7 L476.2 309.7 L476.4 307.3 L477.1 307.4 L477.8 305.4 L478.5 304.6 L479.2 304.1 L479.9 302.8 L480.6 301.8 L481.3 300.1 L482.0 300.0 L482.6 301.5 L483.3 297.8 L484.0 298.2 L485.0 298.6 L485.9 299.4 L486.9 300.6 L487.8 299.8 L488.0 297.8 L488.1 296.9 L488.2 295.8 L488.4 295.2 L488.5 294.4 L488.7 295.0 L488.8 293.6 L489.0 292.7 L489.1 288.8 L489.2 287.7 L489.4 289.0 L489.5 288.6 L489.7 286.1 L489.8 285.5 L489.9 282.4 L490.1 283.1 L490.4 281.7 L490.8 282.5 L491.1 281.2 L491.4 280.2 L491.8 279.6 L492.1 276.2 L492.5 274.7 L492.8 273.8 L493.1 274.0 L494.0 274.7 L494.9 275.8 L495.9 277.3 L496.8 277.2 L497.7 277.0 L497.8 276.5 L497.9 275.8 L498.0 273.7 L498.1 273.0 L498.1 270.2 L498.2 271.7 L498.3 268.8 L498.4 270.1 L498.5 268.1 L498.6 265.9 L498.7 264.3 L498.8 263.7 L498.9 263.9 L499.0 263.1 L499.1 260.1 L499.2 260.3 L499.3 257.8 L499.4 258.4 L499.5 257.5 L499.5 255.8 L499.6 254.3 L499.7 254.5 L499.8 251.5 L499.9 251.4 L500.0 251.0 L500.1 251.6 L500.2 249.5 L500.3 249.3 L500.3 246.9 L500.4 245.1 L500.5 244.1 L500.6 245.5 L500.7 242.9 L501.7 244.1 L502.6 243.2 L503.6 242.7 L504.5 244.8 L505.4 245.9 L506.4 245.5 L507.3 245.4 L508.3 246.7 L509.2 247.6 L510.2 248.9 L511.1 246.9 L512.1 246.6 L513.0 248.0 L514.0 248.7 L514.9 250.0 L515.9 249.7 L515.9 249.7 L515.9 252.8 L516.0 253.6 L516.0 253.9 L516.0 253.9 L516.1 257.5 L516.1 256.3 L516.1 259.1 L516.2 258.1 L516.2 259.1 L516.3 262.0 L516.3 261.4 L516.3 264.7 L516.4 264.2 L516.4 264.2 L516.4 265.3 L516.5 267.0 L516.5 268.9 L516.5 270.9 L516.6 269.2 L516.6 271.1 L516.6 272.5 L516.9 270.5 L517.1 272.0 L517.3 268.2 L517.5 266.8 L517.7 265.8 L518.0 265.9 L518.2 266.6 L518.4 265.6 L518.6 264.0 L518.9 263.9 L519.1 262.6 L519.3 259.6 L519.5 258.1 L519.8 259.6 L520.0 257.9 L520.2 254.5 L520.4 255.0 L520.7 256.5 L521.0 256.5 L521.3 257.5 L521.6 258.3 L521.9 258.7 L522.2 259.1 L522.5 261.0 L522.8 262.2 L523.2 265.2 L523.5 263.3 L523.8 267.2 L524.1 265.6 L524.4 267.0 L524.7 269.6 L525.0 269.4 L525.9 269.8 L526.7 267.7 L527.6 265.6 L528.5 266.3 L529.4 265.2 L530.3 264.9 L530.5 267.3 L530.7 265.9 L530.9 267.5 L531.1 270.3 L531.3 268.3 L531.5 270.6 L531.8 273.0 L532.0 273.9 L532.2 272.4 L532.4 273.4 L532.6 274.5 L532.8 278.4 L533.0 277.2 L533.2 279.9 L533.4 281.4 L533.6 280.5 L533.9 281.3 L534.1 283.1 L535.1 284.4 L536.1 283.0 L537.1 281.5 L538.1 282.8 L539.1 281.2 L540.1 281.6 L540.4 279.8 L540.6 277.9 L540.9 279.4 L541.1 278.9 L541.4 277.0 L541.7 277.0 L541.9 272.9 L542.2 272.6 L542.4 272.4 L542.7 273.0 L542.9 272.0 L543.2 269.4 L543.8 269.9 L544.5 270.3 L545.1 271.8 L545.8 272.9 L546.4 275.2 L547.1 273.6 L547.7 275.5 L548.1 275.6 L548.5 274.4 L548.9 273.7 L549.2 272.6 L549.6 271.1 L550.0 269.2 L550.4 268.2 L550.8 267.4 L551.1 267.9 L551.5 264.6 L551.9 264.0 L552.3 265.0 L552.6 262.3 L553.0 260.7 L553.4 259.7 L553.8 260.3 L554.0 259.5 L554.3 257.6 L554.5 258.8 L554.7 257.4 L555.0 256.7 L555.2 253.2 L555.4 251.6 L555.7 250.6 L555.9 250.9 L556.1 250.5 L556.4 248.6 L556.6 246.8 L556.8 246.7 L557.8 246.8 L558.7 247.8 L559.7 248.4 L560.6 249.0 L561.6 249.8 L562.5 249.5 L563.5 248.0 L564.4 249.7 L564.6 249.9 L564.8 247.1 L565.1 247.0 L565.3 245.4 L565.5 245.6 L565.7 242.8 L566.0 242.0 L566.2 241.0 L566.4 239.7 L566.6 241.2 L566.9 239.2 L567.1 237.4 L567.3 236.7 L567.5 237.7 L567.8 235.1 L568.0 233.2 L568.2 234.1 L568.4 232.6 L568.7 232.8 L568.9 228.8 L569.1 229.2 L569.4 228.1 L569.6 228.3 L569.9 227.3 L570.1 226.6 L570.4 222.6 L570.6 222.4 L570.9 220.8 L571.1 220.0 L571.4 221.7 L571.6 219.4 L571.9 219.5 L572.1 217.1 L573.2 216.2 L574.3 217.4 L575.3 215.5 L576.4 214.4 L577.4 214.8 L577.7 216.7 L578.0 218.3 L578.3 216.4 L578.6 219.1 L578.8 220.2 L579.1 219.8 L579.4 221.3 L579.7 221.5 L580.0 222.8 L580.2 223.9 L580.5 226.1 L580.8 227.3 L581.1 226.7 L581.4 227.1 L581.6 229.2 L581.9 231.4 L582.2 230.7 L582.5 232.1 L582.7 233.7 L583.8 232.9 L584.8 235.0 L585.8 234.3 L586.8 232.8 L587.8 233.0 L588.8 234.5 L589.2 233.2 L589.6 232.8 L590.0 232.1 L590.3 229.3 L590.7 228.6 L591.1 229.5 L591.5 227.6 L591.8 226.2 L592.2 225.3 L592.6 226.6 L593.0 223.4 L593.4 223.1 L594.0 222.5 L594.7 220.9 L595.3 220.2 L596.0 220.9 L596.6 220.5 L597.3 217.5 L597.9 217.1 L598.5 216.9 L599.1 219.7 L599.7 218.8 L600.3 219.0 L600.9 223.0 L601.6 222.3 L602.2 224.5 L602.8 224.0 L603.4 226.5 L604.0 226.2 L604.7 225.3 L605.5 223.5 L606.3 222.2 L607.0 223.3 L607.8 222.8 L608.5 221.6 L608.8 222.0 L609.0 218.1 L609.2 218.9 L609.5 217.0 L609.7 216.4 L609.9 214.1 L610.2 213.5 L610.4 213.3 L610.6 213.6 L610.9 209.8 L611.1 210.0 L611.3 210.0 L611.6 208.0 L611.9 208.6 L612.3 205.0 L612.7 203.8 L613.1 205.7 L613.5 204.8 L613.8 202.2 L614.2 199.8 L614.6 201.8 L615.0 199.0 L615.4 199.9 L615.7 197.9 L616.1 197.7 L616.5 194.5 L616.9 195.7 L617.2 192.8 L617.6 192.8 L618.0 193.4 L618.4 195.9 L618.8 196.8 L619.1 195.5 L619.5 196.6 L619.9 198.1 L620.3 199.5 L620.7 200.4 L620.8 198.9 L621.0 197.0 L621.1 196.4 L621.3 197.0 L621.5 196.5 L621.6 192.6 L621.8 193.3 L621.9 193.0 L622.1 189.5 L622.3 191.1 L622.4 187.7 L622.6 188.3 L622.7 187.1 L622.9 186.3 L623.1 184.2 L623.2 183.5 L623.4 183.0 L623.5 181.4 L623.7 180.7 L623.8 180.2 L623.9 178.4 L624.1 177.4 L624.2 174.9 L624.3 175.9 L624.4 174.4 L624.5 172.5 L624.7 173.3 L624.8 172.3 L624.9 170.2 L625.0 168.2 L625.2 168.2 L625.3 165.9 L625.4 165.0 L625.5 165.0 L625.6 162.8 L625.8 162.9 L625.9 162.1 L626.0 159.5 L626.1 160.5 L626.2 157.6 L626.4 158.8 L626.5 157.9 L626.6 156.0 L626.7 154.9 L627.1 154.3 L627.4 156.8 L627.7 157.4 L628.0 160.3 L628.4 158.5 L628.7 161.9 L629.0 163.4 L629.3 163.5 L629.7 164.7 L630.0 163.6 L630.3 167.2 L630.6 166.6 L631.0 169.1 L631.3 168.5 L631.4 168.9 L631.6 165.4 L631.7 166.5 L631.9 166.0 L632.1 162.1 L632.2 162.1 L632.4 162.4 L632.5 159.4 L632.7 160.9 L632.8 157.8 L633.0 158.7 L633.2 155.4 L633.3 155.6 L633.5 156.0 L633.6 152.6 L633.8 151.8 L633.9 151.7 L634.1 150.0 L634.3 148.1 L634.4 147.6 L634.6 146.5 L634.7 148.2 L634.9 146.3 L635.0 146.0 L635.2 142.6 L635.4 143.7 L635.5 140.4 L635.7 140.8 L635.8 139.7 L635.9 141.2 L636.0 141.3 L636.1 144.0 L636.2 143.9 L636.3 145.0 L636.4 147.1 L636.5 145.4 L636.6 149.5 L636.7 149.3 L636.8 149.5 L636.9 151.8 L637.0 151.0 L637.1 154.5 L637.2 154.1 L637.2 154.4 L637.3 156.8 L637.4 156.7 L637.5 156.8 L637.6 159.8 L637.7 158.4 L637.8 162.0 L637.9 161.1 L638.0 163.4 L638.1 164.0 L638.2 164.6 L638.4 162.2 L638.5 161.5 L638.7 159.3 L638.8 157.2 L638.9 156.3 L639.1 155.7 L639.2 156.3 L639.4 154.6 L639.5 153.9 L639.6 154.2 L639.8 150.6 L639.9 149.9 L640.1 150.3 L640.2 147.2 L640.3 146.1 L640.5 146.3 L640.6 144.4 L640.8 144.3 L640.9 142.8 L641.1 143.0 L641.2 142.0 L641.3 139.7 L641.5 140.1 L641.6 138.6 L641.8 136.5 L641.9 136.7 L642.3 139.1 L642.7 137.7 L643.1 138.4 L643.5 139.2 L644.0 142.0 L644.4 143.7 L644.8 144.4 L645.2 144.1 L645.6 144.6 L646.0 144.7 L646.4 147.3 L646.5 148.8 L646.6 149.6 L646.6 149.9 L646.7 151.9 L646.8 152.3 L646.9 155.0 L646.9 155.3 L647.0 154.7 L647.1 158.0 L647.1 156.1 L647.2 158.8 L647.3 159.4 L647.3 159.8 L647.4 160.3 L647.5 163.8 L647.5 162.2 L647.6 165.0 L647.7 167.4 L647.8 165.7 L647.8 167.0 L647.9 169.4 L648.0 170.0 L648.4 169.1 L648.9 168.7 L649.4 168.3 L649.8 165.2 L650.3 164.7 L650.8 163.8 L651.2 162.0 L651.7 163.9 L652.2 162.6 L652.6 161.4 L653.1 158.1 L653.6 160.0 L654.0 157.9 L654.1 159.8 L654.3 159.9 L654.4 161.8 L654.5 161.9 L654.6 162.2 L654.7 162.8 L654.9 164.3 L655.0 164.6 L655.1 166.7 L655.2 169.1 L655.3 170.0 L655.5 171.5 L655.6 172.1 L655.7 171.6 L655.8 173.7 L655.9 174.3 L656.1 176.5 L656.2 176.7 L656.3 177.6 L656.7 175.9 L657.1 176.2 L657.5 176.4 L657.9 172.9 L658.3 174.3 L658.7 170.4 L659.2 170.3 L659.6 169.3 L660.0 170.1 L660.4 169.8 L660.8 168.2 L661.2 165.8 L661.6 165.5 L662.5 167.4 L663.4 166.1 L664.3 166.4 L665.2 169.3 L666.2 168.5 L666.5 168.0 L666.9 167.2 L667.3 166.1 L667.7 166.1 L668.1 163.4 L668.4 163.6 L668.8 162.1 L669.2 161.7 L669.6 159.2 L669.9 159.2 L670.3 157.6 L670.7 156.4 L671.2 156.7 L671.6 157.3 L672.1 159.6 L672.6 158.7 L673.0 162.5 L673.5 160.8 L674.0 161.3 L674.4 162.5 L674.9 166.3 L675.4 165.2 L675.8 165.4 L676.3 166.0 L676.8 168.5 L677.2 166.0 L677.6 167.3 L678.0 166.1 L678.4 165.3 L678.8 164.5 L679.3 161.3 L679.7 162.1 L680.1 160.3 L680.5 160.9 L680.9 160.0 L681.3 157.9 L681.9 160.2 L682.5 158.3 L683.0 162.0 L683.6 163.1 L684.2 164.2 L684.7 162.3 L685.3 163.5 L685.9 165.5 L686.6 163.4 L687.3 162.4 L687.9 164.4 L688.6 163.5 L689.3 162.2 L690.0 162.1 L690.7 160.6 L691.4 158.7 L692.1 157.3 L692.8 156.5 L693.5 157.2 L694.0 159.0 L694.5 158.0 L695.0 159.4 L695.5 160.7 L696.0 160.3 L696.5 162.0 L697.0 163.1 L697.5 165.5 L698.0 165.2 L698.5 166.0 L699.0 169.2 L699.5 168.5 L700.0 169.5 L700.5 171.6 L700.9 171.8 L701.4 170.7 L701.9 173.0 L702.4 174.0 L702.8 176.1 L703.3 176.1 L703.5 176.6 L703.7 178.9 L703.8 179.4 L704.0 179.3 L704.2 182.6 L704.4 181.0 L704.5 184.5 L704.7 183.4 L704.9 183.9 L705.1 185.6 L705.2 188.6 L705.4 190.3 L705.6 189.8 L706.3 187.2 L707.0 188.1 L707.7 187.2 L708.3 187.5 L709.0 184.6 L709.7 184.8 L710.4 183.5 L711.1 184.3 L711.8 181.5 L712.5 183.0 L713.2 180.7 L713.4 181.0 L713.6 181.8 L713.9 184.5 L714.1 184.9 L714.3 184.6 L714.6 187.4 L714.8 186.6 L715.0 190.0 L715.3 190.8 L715.5 192.1 L715.7 192.6 L716.0 192.8 L716.2 194.3 L717.3 193.6 L718.5 193.2 L719.6 194.5 L720.8 192.8 L721.1 192.4 L721.4 196.1 L721.8 194.2 L722.1 195.8 L722.4 197.0 L722.8 200.2 L723.1 199.9 L723.4 200.5 L723.8 201.9 L724.4 204.1 L725.0 202.8 L725.6 204.5 L726.2 205.6 L726.8 207.3 L727.4 208.2 L728.0 208.8 L728.6 208.7 L729.2 209.5 L729.9 211.0 L730.0 210.8 L730.1 214.2 L730.2 214.6 L730.3 215.9 L730.4 214.9 L730.5 216.8 L730.6 219.0 L730.7 219.3 L730.8 218.8 L730.9 221.0 L731.0 223.4 L731.1 222.2 L731.2 223.1 L731.3 224.5 L731.4 226.2 L732.3 226.2 L733.2 226.1 L734.1 223.2 L735.0 222.6 L735.9 223.1 L736.0 223.3 L736.2 224.5 L736.3 226.2 L736.4 226.0 L736.5 227.5 L736.6 228.1 L736.7 231.7 L736.9 231.9 L737.0 230.7 L737.1 234.7 L737.2 232.7 L737.3 234.7 L737.4 237.7 L737.6 238.1 L737.7 238.9 L737.8 238.9 L737.9 239.0 L738.0 241.5 L738.2 240.7 L738.3 242.1 L738.4 243.7 L738.5 243.5 L738.6 245.7 L738.7 248.0 L738.9 248.7 L739.0 249.1 L739.1 250.0 L739.2 251.5 L739.4 252.0 L739.5 251.9 L739.7 254.5 L739.8 254.9 L739.9 257.1 L740.1 258.7 L740.2 258.1 L740.3 259.6 L740.5 261.2 L740.6 261.2 L740.8 261.5 L740.9 264.2 L741.0 265.8 L741.2 266.5 L741.3 267.3 L741.4 268.8 L741.6 269.3 L741.7 270.2 L741.9 270.6 L742.0 271.1 L742.1 272.8 L742.3 272.2 L742.5 269.4 L742.7 269.5 L742.9 269.7 L743.1 268.5 L743.3 267.2 L743.5 264.9 L743.7 264.4 L744.0 263.5 L744.2 263.1 L744.4 261.4 L744.6 261.3 L744.8 261.1 L745.0 257.6 L745.2 257.6 L745.3 257.1 L745.5 256.5 L745.6 254.1 L745.8 253.4 L746.0 254.1 L746.1 249.8 L746.3 250.5 L746.4 248.2 L746.6 249.2 L746.8 248.7 L746.9 246.3 L747.1 243.8 L747.2 244.4 L747.4 243.2 L747.6 242.8 L747.7 241.1 L747.9 240.5 L748.0 240.1 L748.2 237.9 L748.5 237.0 L748.9 235.5 L749.2 236.3 L749.6 232.8 L749.9 233.4 L750.3 231.3 L750.6 231.6 L751.0 228.4 L751.3 230.3 L751.6 227.1 L752.0 226.5 L752.2 226.1 L752.4 227.8 L752.6 229.3 L752.8 229.0 L753.0 231.4 L753.2 232.4 L753.4 234.4 L753.6 234.2 L753.8 234.9 L754.0 235.8 L754.2 238.6 L754.4 240.3 L754.6 239.9 L754.8 239.9 L755.0 242.9 L755.2 242.5 L755.4 242.9 L755.6 243.7 L755.7 246.9 L755.9 248.0 L756.1 248.5 L756.3 248.9 L756.5 250.0 L756.8 249.3 L757.0 247.2 L757.3 248.7 L757.6 245.6 L757.8 245.6 L758.1 245.3 L758.3 244.3 L758.6 242.1 L758.8 240.6 L759.1 240.5 L759.3 238.0 L759.6 239.5 L759.8 236.9 L760.1 237.6 L760.3 234.6 L760.6 234.0 L760.8 232.6 L761.1 232.2 L761.3 230.5 L761.6 228.9 L761.8 229.6 L762.9 230.3 L764.0 228.8 L765.0 228.7 L766.1 228.9 L767.2 229.6 L768.0 230.1 L768.9 230.6 L769.8 231.9 L770.7 232.6 L771.6 232.3 L772.5 233.4 L772.6 235.9 L772.7 236.7 L772.8 235.0 L772.9 238.7 L773.0 240.0 L773.2 240.6 L773.3 239.5 L773.4 242.9 L773.5 243.3 L773.6 242.2 L773.7 243.3 L773.9 247.5 L774.0 247.0 L774.5 246.7 L775.0 244.4 L775.5 243.0 L776.0 242.3 L776.5 241.7 L777.0 242.6 L777.5 240.3 L778.0 238.8 L778.5 240.4 L779.0 239.2 L779.5 236.2 L780.0 236.4 L780.4 238.7 L780.8 238.7 L781.2 240.2 L781.6 240.8 L781.9 242.5 L782.3 243.1 L782.7 244.2 L783.1 244.0 L783.3 243.9 L783.6 246.6 L783.9 247.0 L784.1 248.7 L784.4 248.7 L784.7 251.2 L785.0 251.0 L785.2 251.0 L785.5 251.9 L785.8 252.6 L786.0 254.7 L786.3 254.3 L786.6 256.6 L786.8 256.5 L787.1 258.7 L787.4 259.7 L787.6 260.7 L788.4 261.6 L789.1 263.4 L789.9 261.3 L790.7 263.7 L790.9 265.9 L791.0 265.7 L791.2 267.0 L791.4 268.4 L791.6 270.1 L791.8 269.5 L792.0 270.7 L792.2 273.6 L792.4 271.6 L792.6 274.6 L792.7 275.6 L792.9 274.6 L793.1 277.6 L793.3 278.9 L793.5 280.8 L793.7 280.4 L793.9 280.8 L794.1 284.1 L794.3 283.5 L794.5 284.5 L794.6 286.9 L794.8 285.0 L795.0 288.4 L795.2 289.1 L795.4 289.2 L795.6 292.0 L795.8 291.4 L796.0 292.8 L796.2 294.0 L796.3 295.9 L796.5 295.0 L796.7 297.1 L796.9 297.8 L797.1 298.8 L797.2 300.3 L797.4 302.2 L797.6 301.4 L797.7 304.2 L797.9 303.8 L798.1 305.2 L798.2 306.2 L798.3 306.4 L798.4 308.2 L798.5 310.8 L798.6 310.7 L798.7 312.2 L798.7 311.6 L798.8 312.6 L798.9 313.6 L799.0 315.6 L799.1 316.7 L799.2 318.2 L799.3 316.7 L799.3 320.1 L799.4 321.6 L799.5 321.5 L799.6 320.8 L799.7 322.7 L799.8 324.4 L800.1 323.6 L800.5 325.2 L800.9 328.6 L801.3 328.5 L801.7 329.6 L802.0 331.0 L802.4 332.4 L802.8 331.9 L803.0 331.3 L803.2 330.2 L803.4 329.2 L803.6 328.4 L803.7 327.1 L803.9 326.3 L804.1 323.7 L804.3 324.2 L804.5 322.4 L804.7 322.4 L804.9 319.1 L805.1 318.3 L805.3 316.8 L805.4 318.3 L805.6 317.7 L805.8 315.3 L806.7 315.1 L807.6 313.5 L808.4 314.4 L809.3 313.6 L810.2 312.2 L811.0 310.5 L811.9 310.7 L812.2 311.0 L812.6 312.5 L812.9 313.1 L813.2 314.5 L813.6 316.2 L813.9 318.2 L814.3 316.3 L814.6 319.0 L814.9 319.8 L815.9 317.7 L816.9 317.5 L818.0 319.3 L819.0 318.0 L820.0 318.7 L821.0 316.8 L821.2 317.6 L821.4 317.1 L821.6 319.4 L821.8 321.1 L822.0 323.3 L822.2 324.5 L822.4 323.8 L822.6 324.6 L822.8 324.5 L823.0 327.4 L823.2 326.9 L823.4 327.7 L823.6 328.3 L823.8 329.2 L824.0 331.9 L824.9 333.2 L825.8 331.9 L826.8 335.3 L827.7 333.0 L828.6 335.0 L829.0 335.2 L829.3 331.7 L829.7 330.3 L830.1 331.7 L830.5 329.0 L830.8 329.7 L831.2 326.8 L831.6 325.4 L832.0 326.8 L832.4 325.6 L832.7 325.1 L833.1 322.8 L833.2 322.6 L833.4 319.3 L833.5 320.1 L833.6 319.4 L833.7 317.5 L833.8 318.0 L833.9 314.7 L834.1 316.0 L834.2 314.1 L834.3 310.7 L834.4 309.6 L834.5 310.8 L834.6 309.2 L835.4 311.0 L836.2 309.3 L836.9 310.8 L837.7 313.0 L838.4 311.8 L839.2 313.7 L839.3 313.9 L839.4 311.6 L839.5 309.2 L839.6 309.2 L839.7 308.8 L839.8 307.4 L839.9 307.1 L840.1 304.3 L840.2 305.5 L840.3 303.0 L840.4 302.9 L840.5 301.8 L840.6 300.1 L840.7 298.9 L840.8 299.3 L840.9 298.8 L841.0 297.2 L841.1 295.4 L841.2 293.5 L841.4 291.7 L841.5 293.7 L841.6 291.8 L841.7 291.2 L841.8 288.5 L841.9 288.4 L842.0 288.6 L842.1 287.1 L842.2 284.9 L842.6 286.3 L842.9 286.3 L843.2 287.7 L843.6 290.3 L843.9 289.6 L844.2 291.6 L844.6 292.3 L844.9 294.4 L845.3 294.0 L846.2 295.7 L847.1 294.5 L848.0 294.2 L848.9 295.6 L849.8 297.1 L850.8 297.3 L851.8 298.4 L852.8 298.6 L852.9 298.6 L853.0 297.9 L853.0 294.0 L853.1 295.7 L853.2 294.6 L853.2 293.8 L853.3 291.7 L853.4 289.7 L853.4 290.7 L853.5 289.5 L853.6 288.1 L853.6 287.8 L853.7 284.9 L853.8 283.0 L853.8 283.6 L853.9 283.4 L854.0 280.4 L854.1 281.2 L854.1 280.8 L854.2 277.4 L854.3 277.7 L854.3 276.9 L854.4 275.2 L854.5 273.3 L854.5 272.5 L854.6 273.1 L854.7 272.3 L854.7 270.1 L854.8 267.9 L854.9 269.3 L854.9 268.2 L855.0 265.3 L855.1 265.5 L855.1 265.5 L855.2 264.5 L855.3 262.3 L855.3 261.1 L855.4 260.5 L855.5 258.1 L855.5 257.1 L855.6 256.0 L855.7 256.8 L855.7 254.6 L855.8 254.3 L855.9 253.1 L856.0 251.7 L856.1 251.1 L856.2 248.9 L856.3 247.5 L856.4 249.8 L856.5 246.7 L856.6 244.8 L856.7 245.5 L856.8 245.1 L856.9 241.9 L857.0 242.4 L857.1 240.6 L857.2 240.2 L857.3 237.5 L857.4 236.5 L857.5 238.8 L857.6 237.4 L857.7 235.1 L857.8 234.4 L857.9 232.3 L858.0 233.1 L858.1 230.9 L858.2 231.6 L858.3 230.0 L858.4 229.2 L858.5 228.7 L858.6 225.3 L858.7 223.6 L858.8 223.1 L858.9 222.1 L859.0 220.7 L859.1 219.6 L859.2 220.3 L859.3 220.4 L859.4 218.0 L859.5 218.7 L859.6 217.6 L859.7 215.2 L859.7 214.7 L859.7 217.5 L859.7 217.8 L859.7 217.9 L859.7 221.8 L859.8 220.4 L859.8 222.4 L859.8 223.7 L859.8 225.8 L859.8 225.8 L859.8 225.9 L859.8 227.1 L859.9 227.1 L859.9 230.8 L859.9 231.9 L859.9 230.3 L859.9 230.7 L859.9 232.4 L859.9 233.8 L860.0 236.6 L860.0 237.7 L860.0 238.4 L860.0 238.3 L860.1 235.7 L860.2 237.2 L860.3 236.0 L860.4 234.7 L860.6 234.9 L860.7 230.7 L860.8 230.0 L860.9 231.1 L861.0 230.7 L861.1 228.8 L861.2 226.5 L861.3 226.5 L861.5 226.0 L861.6 222.8 L861.7 222.5 L861.8 221.3 L861.9 219.8 L862.0 220.0 L862.1 218.0 L862.2 217.2 L862.4 215.8 L862.5 216.7 L862.6 213.4 L862.7 214.8 L862.8 212.0 L862.9 210.4 L863.0 211.0 L863.2 211.4 L863.3 208.0 L863.4 209.4 L863.5 208.2 L863.7 207.3 L863.8 203.7 L863.9 203.7 L864.0 201.5 L864.2 203.4 L864.3 202.0 L864.4 200.3 L864.5 198.7 L864.7 197.3 L864.8 197.9 L864.9 195.8 L865.1 195.3 L865.2 192.6 L865.3 191.8 L865.4 190.3 L865.6 191.5 L865.7 189.9 L865.8 187.5 L865.9 189.0 L866.1 186.7 L866.7 185.1 L867.4 184.7 L868.0 183.0 L868.7 182.5 L869.3 183.5 L870.0 181.0 L870.6 180.7 L871.0 178.6 L871.4 178.7 L871.8 177.2 L872.1 178.2 L872.5 174.6 L872.9 176.6 L873.3 172.5 L873.6 173.1 L873.8 173.4 L874.0 171.6 L874.1 169.1 L874.3 169.0 L874.4 167.3 L874.6 166.2 L874.8 165.0 L874.9 164.5 L875.1 165.6 L875.2 164.7 L875.4 163.4 L875.5 159.6 L875.7 159.2 L875.9 160.3 L876.0 156.4 L876.2 157.7 L876.3 155.2 L876.5 156.5 L876.7 152.2 L876.8 153.9 L877.0 151.3 L877.1 149.6 L877.3 148.1 L877.4 148.8 L877.5 151.0 L877.7 150.9 L877.8 150.8 L877.9 152.6 L878.0 155.3 L878.1 153.9 L878.2 156.1 L878.3 155.7 L878.4 156.8 L878.5 159.8 L878.6 160.7 L878.7 159.9 L878.8 160.5 L879.0 161.6 L879.1 164.3 L879.2 165.0 L879.3 165.2 L879.4 166.0 L879.5 168.4 L879.6 169.7 L879.7 170.0 L879.9 170.1 L880.1 168.3 L880.3 166.0 L880.5 164.5 L880.7 165.8 L880.9 163.7 L881.0 163.7 L881.2 160.4 L881.4 162.0 L881.6 159.4 L881.8 160.1 L882.0 157.9 L882.1 160.2 L882.1 160.0 L882.2 159.4 L882.2 163.4 L882.3 163.0 L882.4 165.4 L882.4 164.3 L882.5 165.1 L882.5 168.3 L882.6 167.8 L882.7 168.1 L882.7 169.9 L882.8 171.6 L882.8 170.7 L882.9 173.4 L883.0 174.2 L883.0 175.5 L883.1 175.2 L883.1 178.2 L883.2 179.6 L883.3 180.8 L883.3 180.0 L883.4 182.3 L883.4 182.3 L883.5 183.7 L883.7 183.5 L883.9 180.2 L884.1 181.9 L884.3 181.2 L884.6 178.6 L884.8 177.7 L885.0 176.7 L885.2 175.7 L885.4 173.0 L885.6 175.2 L885.8 171.6 L886.0 170.5 L886.2 169.2 L886.5 168.7 L886.7 169.6 L886.9 165.9 L887.1 165.1 L887.3 165.5 L887.7 167.1 L888.1 166.4 L888.4 166.7 L888.8 169.6 L889.2 170.5 L889.6 171.3 L890.0 172.8 L890.3 173.1 L890.7 170.7 L891.0 172.3 L891.3 170.8 L891.7 167.5 L892.0 166.7 L892.4 167.0 L892.7 166.0 L893.0 164.2 L893.4 164.0 L894.5 163.1 L895.6 164.4 L896.8 163.9 L897.9 165.5 L898.0 164.8 L898.1 164.7 L898.2 161.3 L898.3 161.7 L898.4 161.3 L898.5 158.3 L898.6 159.5 L898.7 158.9 L898.8 156.0 L898.9 155.1 L899.0 155.5 L899.1 153.5 L899.2 152.0 L899.3 152.8 L899.4 150.3 L900.2 150.5 L900.9 148.3 L901.7 147.2 L902.5 146.7 L903.2 146.3 L904.0 145.8 L904.5 146.5 L905.0 145.0 L905.5 144.4 L906.0 143.1 L906.5 142.3 L907.0 138.7 L907.5 139.4 L908.0 139.9 L908.5 137.4 L908.6 139.9 L908.6 138.6 L908.6 140.2 L908.7 141.9 L908.7 142.0 L908.7 143.6 L908.7 143.0 L908.8 145.2 L908.8 146.5 L908.8 145.8 L908.9 147.2 L908.9 151.0 L908.9 151.4 L909.0 152.9 L909.0 152.9 L909.0 154.5 L909.0 155.8 L909.1 156.8 L909.1 154.9 L909.1 157.9 L909.2 157.7 L909.2 160.1 L909.2 159.7 L909.3 161.6 L909.3 162.5 L909.5 162.9 L909.6 160.9 L909.8 158.6 L910.0 158.5 L910.2 157.2 L910.4 157.9 L910.6 154.7 L910.7 153.7 L910.9 153.9 L911.1 151.1 L911.3 151.7 L911.5 151.9 L911.6 149.4 L911.8 147.5 L912.0 147.2 L912.2 146.4 L912.4 144.1 L912.5 143.0 L912.7 142.0 L912.9 141.5 L913.1 141.2 L913.5 141.9 L913.9 142.4 L914.3 143.3 L914.7 143.7 L915.1 146.2 L915.6 148.2 L916.0 148.4 L916.4 149.2 L916.8 150.4 L917.2 149.9 L917.6 151.8 L918.0 151.6 L918.3 149.7 L918.6 149.0 L919.0 148.2 L919.3 146.7 L919.7 145.1 L920.0 143.9 L920.3 142.8 L920.7 142.7 L920.7 143.8 L920.8 144.4 L920.8 146.1 L920.8 145.1 L920.9 147.3 L920.9 150.0 L921.0 148.9 L921.0 151.0 L921.1 151.8 L921.1 152.1 L921.2 155.5 L921.2 154.2 L921.3 156.8 L921.3 155.7 L921.4 156.4 L921.4 160.2 L921.4 159.7 L921.5 159.5 L921.5 161.6 L921.6 162.8 L921.6 164.8 L921.7 163.7 L921.7 165.1 L921.8 168.6 L921.8 168.8 L921.9 167.9 L921.9 169.5 L921.9 170.6 L922.0 172.7 L922.0 173.5 L922.1 175.3 L922.1 176.2 L922.2 176.1 L922.3 175.2 L922.5 174.9 L922.7 173.9 L922.9 173.0 L923.0 171.0 L923.2 171.0 L923.4 169.7 L923.5 169.4 L923.7 165.7 L923.9 167.3 L924.0 163.3 L924.2 164.9 L924.4 163.3 L924.5 162.0 L924.7 162.5 L924.9 160.2 L925.0 158.6 L925.2 157.9 L926.3 158.9 L927.5 159.2 L928.6 158.3 L929.8 157.9 L929.9 158.6 L930.1 159.9 L930.2 161.0 L930.4 162.9 L930.5 162.5 L930.7 163.9 L930.8 165.5 L931.0 166.0 L931.1 166.9 L931.3 168.5 L932.2 170.1 L933.1 170.9 L934.0 170.3 L934.9 170.8 L935.8 171.6 L935.9 171.5 L936.0 172.9 L936.0 173.4 L936.1 175.9 L936.1 176.9 L936.2 176.2 L936.3 180.1 L936.3 179.1 L936.4 181.8 L936.5 182.8 L936.5 184.2 L936.6 182.7 L936.6 184.5 L936.7 187.1 L936.8 185.1 L936.8 186.2 L936.9 189.0 L937.0 189.8 L937.0 192.2 L937.1 192.7 L937.2 192.9 L937.2 195.5 L937.3 194.9 L937.3 195.8 L937.8 194.9 L938.2 194.5 L938.6 192.6 L939.0 191.5 L939.4 191.3 L939.8 189.5 L940.2 190.6 L940.7 188.7 L941.1 187.2 L941.5 184.8 L941.9 185.2 L942.0 185.8 L942.1 186.9 L942.2 188.5 L942.3 189.6 L942.4 191.6 L942.5 193.0 L942.7 192.4 L942.8 193.2 L942.9 194.9 L943.0 197.2 L943.1 196.0 L943.2 197.7 L943.3 199.7 L943.4 198.5 L943.5 200.0 L943.6 203.3 L943.7 203.8 L943.8 203.8 L944.0 203.4 L944.1 207.1 L944.2 207.5 L944.3 208.9 L944.4 210.5 L944.5 211.2 L944.6 210.7 L944.7 210.8 L944.8 212.3 L944.9 214.0 L945.1 213.1 L945.3 212.0 L945.5 209.9 L945.7 208.9 L945.9 209.4 L946.1 208.3 L946.3 206.4 L946.4 207.6 L946.6 205.4 L946.8 202.4 L947.0 202.6 L947.2 202.9 L947.4 200.2 L947.6 200.5 L947.8 197.2 L948.0 197.2 L948.1 198.0 L948.3 196.1 L948.5 195.4 L948.7 192.8 L948.9 192.8 L949.1 192.0 L949.3 190.0 L949.5 189.8 L950.0 191.1 L950.6 191.6 L951.1 194.1 L951.6 193.5 L952.2 193.8 L952.7 193.7 L953.3 195.8 L953.4 195.7 L953.5 198.8 L953.6 197.6 L953.7 198.6 L953.8 199.9 L953.9 202.1 L954.0 204.2 L954.1 204.5 L954.2 206.2 L954.3 204.7 L954.4 205.5 L954.5 209.2 L954.6 208.7 L954.7 211.0 L954.8 210.8 L954.9 211.2 L955.0 212.6 L955.1 213.1 L955.2 216.8 L955.3 216.8 L955.4 217.0 L955.5 218.6 L956.0 217.4 L956.4 216.3 L956.8 214.2 L957.2 216.0 L957.6 214.0 L958.0 214.3 L958.4 211.6 L958.9 211.3 L959.3 209.0 L959.7 207.4 L960.1 208.0 L960.5 210.4 L960.9 211.2 L961.4 210.4 L961.8 213.4 L962.2 214.1 L962.6 213.4 L963.0 215.4 L963.5 217.6 L963.9 217.1 L964.1 216.0 L964.4 216.6 L964.6 213.2 L964.9 212.6 L965.1 212.7 L965.4 210.0 L965.7 209.3 L965.9 210.2 L966.2 207.9 L966.4 207.9 L966.7 205.1 L966.9 204.9 L967.5 204.7 L968.0 206.2 L968.5 206.5 L969.1 210.0 L969.6 208.5 L970.2 210.3 L970.7 211.0 L971.3 210.6 L971.8 213.0 L972.4 213.4 L973.0 214.5 L973.6 214.3 L974.1 215.4 L974.7 218.7 L975.3 218.6 L975.5 217.1 L975.7 215.7 L975.9 214.5 L976.1 213.8 L976.3 212.6 L976.5 210.9 L976.7 212.1 L976.9 209.9 L977.1 208.3 L977.3 209.2 L977.5 206.1 L977.7 205.7 L977.9 206.6 L978.1 203.2 L978.3 203.4 L979.4 203.6 L980.6 205.3 L981.7 205.6 L982.8 204.9 L982.9 202.8 L982.9 202.4 L983.0 202.7 L983.0 200.5 L983.1 201.5 L983.1 197.9 L983.2 199.5 L983.2 196.9 L983.3 195.0 L983.3 194.8 L983.4 192.7 L983.4 193.6 L983.5 191.1 L983.5 192.3 L983.6 190.2 L983.6 188.5 L983.7 187.1 L983.7 187.3 L983.8 184.9 L983.8 186.2 L983.9 182.6 L983.9 183.0 L984.0 182.1 L984.0 180.1 L984.0 180.8 L984.1 178.5 L984.1 178.5 L984.2 177.1 L984.2 175.3 L984.3 174.5 L984.3 172.5 L984.4 171.8 L984.4 173.1 L984.5 170.3 L984.5 170.5 L984.6 167.6 L984.6 168.1 L984.7 166.4 L984.7 165.9 L984.8 164.2 L984.8 162.4 L984.9 162.3 L984.9 161.0 L985.0 159.6 L985.0 160.7 L985.1 158.2 L985.1 157.9 L985.6 156.7 L986.0 157.5 L986.5 156.1 L986.9 155.6 L987.4 153.4 L988.3 155.2 L989.1 153.4 L990.0 154.6 L990.9 154.4 L991.7 157.2 L992.6 157.8 L993.5 157.9 L993.9 156.5 L994.4 155.7 L994.9 155.6 L995.4 154.8 L995.8 152.3 L996.3 153.4 L996.8 150.8 L997.2 150.3 L998.0 151.7 L998.8 151.1 L999.5 151.8 L1000.3 155.4 L1001.0 154.9 L1001.1 156.7 L1001.1 157.7 L1001.2 156.4 L1001.2 157.5 L1001.3 158.9 L1001.3 160.1 L1001.4 161.5 L1001.4 162.8 L1001.5 162.7 L1001.5 164.7 L1001.6 166.8 L1001.6 166.3 L1001.7 169.6 L1001.7 169.7 L1001.7 171.3 L1001.8 171.6 L1002.1 169.8 L1002.5 169.4 L1002.8 169.3 L1003.2 167.2 L1003.5 165.0 L1003.9 166.9 L1004.2 165.7 L1004.6 163.1 L1004.9 161.3 L1005.2 163.1 L1005.6 160.9 L1006.3 162.1 L1007.1 160.9 L1007.9 162.4 L1008.6 162.7 L1009.4 165.7 L1010.1 165.5 L1011.2 164.3 L1012.3 166.5 L1013.4 165.7 L1014.5 163.2 L1015.6 165.1 L1016.6 163.8 L1017.7 164.0 L1017.7 163.8 L1017.8 163.1 L1017.8 160.2 L1017.8 158.6 L1017.8 160.5 L1017.8 157.7 L1017.8 158.4 L1017.8 156.6 L1017.9 155.8 L1017.9 155.1 L1017.9 153.4 L1017.9 151.8 L1017.9 149.4 L1017.9 150.6 L1018.0 148.7 L1018.0 148.0 L1018.0 148.4 L1018.0 144.7 L1018.0 145.8 L1018.0 142.4 L1018.1 143.6 L1018.1 143.0 L1018.1 140.1 L1018.1 140.1 L1018.1 140.5 L1018.1 138.4 L1018.2 137.1 L1018.2 135.1 L1018.2 133.4 L1018.2 133.4 L1018.2 132.6 L1018.2 131.9 L1018.3 129.9 L1018.3 129.2 L1018.4 127.6 L1018.5 128.5 L1018.5 127.4 L1018.6 124.9 L1018.6 123.8 L1018.7 123.8 L1018.7 122.5 L1018.8 123.1 L1018.9 120.1 L1018.9 118.9 L1019.0 119.9 L1019.0 116.3 L1019.1 116.8 L1019.1 115.5 L1020.3 114.5 L1021.4 115.7 L1022.6 114.3 L1023.7 113.7 L1023.8 113.6 L1023.9 110.5 L1024.0 111.2 L1024.1 110.0 L1024.2 108.5 L1024.3 108.5 L1024.5 107.7 L1024.6 104.2 L1024.7 103.8 L1024.8 103.0 L1024.9 101.5 L1025.0 100.0 L1025.1 99.7 L1025.2 98.4 L1025.3 99.1 L1025.4 97.2 L1025.6 95.1 L1025.7 94.8 L1025.8 94.2 L1025.9 92.8 L1026.0 91.2 L1026.1 89.8 L1026.2 88.6 L1026.3 90.9 L1026.4 88.2 L1027.0 88.2 L1027.6 85.0 L1028.2 86.2 L1028.8 86.2 L1029.3 83.9 L1029.9 81.4 L1030.5 81.8 L1030.8 82.8 L1031.0 83.6 L1031.3 83.8 L1031.5 86.0 L1031.8 85.2 L1032.0 89.3 L1032.3 89.4 L1032.5 90.4 L1032.8 90.9 L1032.9 93.4 L1033.1 93.5 L1033.2 93.1 L1033.3 94.1 L1033.4 94.7 L1033.6 95.3 L1033.7 98.9 L1033.8 100.1 L1034.0 99.2 L1034.1 99.8 L1034.2 102.4 L1034.4 104.1 L1034.5 105.4 L1034.6 103.8 L1034.7 106.9 L1034.9 108.0 L1035.0 108.7 L1035.1 108.3 L1035.3 108.8 L1035.4 112.0 L1035.5 111.9 L1035.7 110.3 L1035.9 109.4 L1036.1 109.0 L1036.3 107.4 L1036.5 107.9 L1036.7 104.9 L1036.9 103.2 L1037.1 104.0 L1037.3 103.2 L1037.5 102.9 L1037.7 101.5 L1037.9 101.1 L1038.2 100.2 L1038.4 97.7 L1038.6 96.7 L1038.8 94.5 L1039.0 94.0 L1039.2 93.7 L1039.9 93.2 L1040.6 90.8 L1041.3 92.1 L1042.1 89.6 L1042.8 90.0 L1043.0 90.9 L1043.2 93.7 L1043.4 91.8 L1043.6 92.6 L1043.8 95.0 L1044.0 95.2 L1044.2 98.1 L1044.4 96.7 L1044.6 100.6 L1044.8 101.6 L1044.9 102.5 L1045.1 102.3 L1045.3 102.8 L1045.5 104.6 L1045.8 106.2 L1046.0 106.7 L1046.2 107.4 L1046.4 108.1 L1046.7 109.5 L1046.9 111.3 L1047.1 112.9 L1047.4 112.8 L1048.1 113.4 L1048.8 110.2 L1049.5 109.9 L1050.3 109.7 L1051.0 109.1" fill="none" stroke="#231f20" stroke-width="6.5" stroke-linejoin="round" stroke-linecap="round"/>
<path d="M63.5 20.0 V575.1 H1052.6 V20.0" fill="none" stroke="#231f20" stroke-width="3.6"/>
<line x1="135.9" y1="575.1" x2="135.9" y2="569.6" stroke="#231f20" stroke-width="2.6"/>
<line x1="208.3" y1="575.1" x2="208.3" y2="569.6" stroke="#231f20" stroke-width="2.6"/>
<line x1="280.7" y1="575.1" x2="280.7" y2="569.6" stroke="#231f20" stroke-width="2.6"/>
<line x1="353.1" y1="575.1" x2="353.1" y2="569.6" stroke="#231f20" stroke-width="2.6"/>
<line x1="425.5" y1="575.1" x2="425.5" y2="569.6" stroke="#231f20" stroke-width="2.6"/>
<line x1="497.9" y1="575.1" x2="497.9" y2="569.6" stroke="#231f20" stroke-width="2.6"/>
<line x1="570.3" y1="575.1" x2="570.3" y2="569.6" stroke="#231f20" stroke-width="2.6"/>
<line x1="642.7" y1="575.1" x2="642.7" y2="569.6" stroke="#231f20" stroke-width="2.6"/>
<line x1="715.1" y1="575.1" x2="715.1" y2="569.6" stroke="#231f20" stroke-width="2.6"/>
<line x1="787.5" y1="575.1" x2="787.5" y2="569.6" stroke="#231f20" stroke-width="2.6"/>
<line x1="859.9" y1="575.1" x2="859.9" y2="569.6" stroke="#231f20" stroke-width="2.6"/>
<line x1="932.3" y1="575.1" x2="932.3" y2="569.6" stroke="#231f20" stroke-width="2.6"/>
<line x1="1004.7" y1="575.1" x2="1004.7" y2="569.6" stroke="#231f20" stroke-width="2.6"/>
<text class="ax" transform="translate(50.2,29.4) scale(0.975,1)" text-anchor="end">7.4</text>
<text class="ax" transform="translate(50.2,84.9) scale(0.975,1)" text-anchor="end">7.2</text>
<text class="ax" transform="translate(50.2,140.3) scale(0.975,1)" text-anchor="end">7.0</text>
<text class="ax" transform="translate(50.2,195.8) scale(0.975,1)" text-anchor="end">6.8</text>
<text class="ax" transform="translate(50.2,251.2) scale(0.975,1)" text-anchor="end">6.6</text>
<text class="ax" transform="translate(50.2,306.7) scale(0.975,1)" text-anchor="end">6.4</text>
<text class="ax" transform="translate(50.2,362.2) scale(0.975,1)" text-anchor="end">6.2</text>
<text class="ax" transform="translate(50.2,417.6) scale(0.975,1)" text-anchor="end">6.0</text>
<text class="ax" transform="translate(50.2,473.1) scale(0.975,1)" text-anchor="end">5.8</text>
<text class="ax" transform="translate(50.2,528.5) scale(0.975,1)" text-anchor="end">5.6</text>
<text class="ax" transform="translate(50.2,584.0) scale(0.975,1)" text-anchor="end">5.4</text>
<text class="ax" transform="translate(1065.6,29.4) scale(0.975,1)">2.00%</text>
<text class="ax" transform="translate(1065.6,91.0) scale(0.975,1)">1.50%</text>
<text class="ax" transform="translate(1065.6,152.6) scale(0.975,1)">1.00%</text>
<text class="ax" transform="translate(1065.6,214.3) scale(0.975,1)">0.50%</text>
<text class="ax" transform="translate(1065.6,275.9) scale(0.975,1)">0.00%</text>
<text class="ax" transform="translate(1065.6,337.5) scale(0.975,1)">-0.50%</text>
<text class="ax" transform="translate(1065.6,399.1) scale(0.975,1)">-1.00%</text>
<text class="ax" transform="translate(1065.6,460.8) scale(0.975,1)">-1.50%</text>
<text class="ax" transform="translate(1065.6,522.4) scale(0.975,1)">-2.00%</text>
<text class="ax" transform="translate(1065.6,584.0) scale(0.975,1)">-2.50%</text>
<text class="xl" transform="translate(73.3,858.3) rotate(-90) scale(0.951,1)">1 January 2013</text>
<text class="xl" transform="translate(218.1,858.3) rotate(-90) scale(0.951,1)">1 January 2014</text>
<text class="xl" transform="translate(362.9,858.3) rotate(-90) scale(0.951,1)">1 January 2015</text>
<text class="xl" transform="translate(507.7,858.3) rotate(-90) scale(0.951,1)">1 January 2016</text>
<text class="xl" transform="translate(652.5,858.3) rotate(-90) scale(0.951,1)">1 January 2017</text>
<text class="xl" transform="translate(797.3,858.3) rotate(-90) scale(0.951,1)">1 January 2018</text>
<text class="xl" transform="translate(942.1,858.3) rotate(-90) scale(0.951,1)">1 January 2019</text>
<rect x="90" y="897.5" width="55" height="17" rx="1.5" fill="#b3b4b6"/>
<line x1="91.5" y1="970.5" x2="143.5" y2="970.5" stroke="#231f20" stroke-width="6" stroke-linecap="round"/>
<text class="lg" transform="translate(158.5,914.4) scale(0.974,1)">Percentage premium of CNH over CNY (right-hand scale)</text>
<text class="lg" transform="translate(158.3,979.3) scale(0.980,1)">CNY/USD (left-hand scale)</text>
</svg>
</body></html>
